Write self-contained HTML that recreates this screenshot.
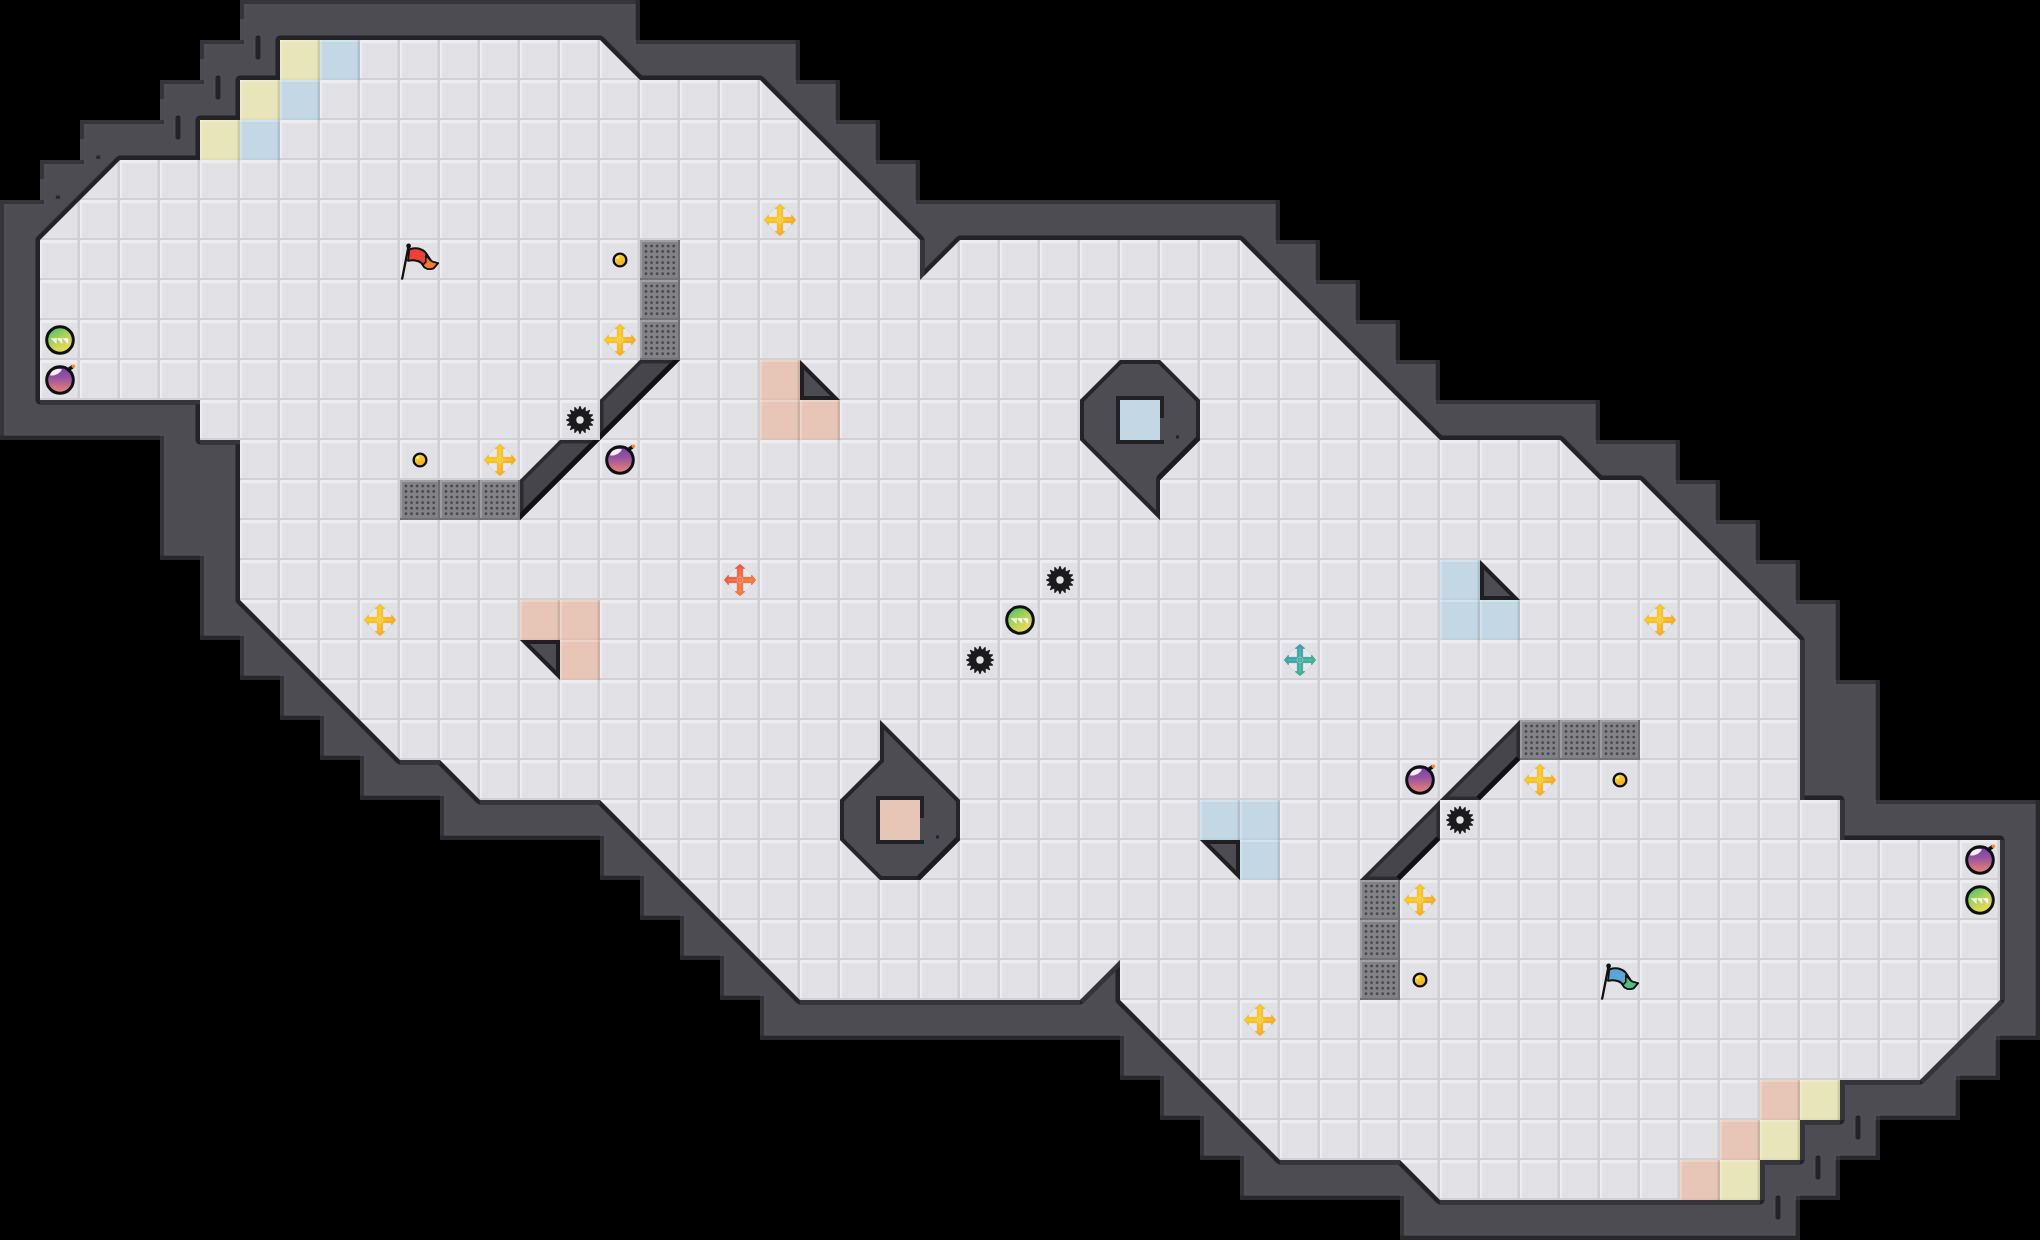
<!DOCTYPE html><html><head><meta charset="utf-8"><style>html,body{margin:0;padding:0;background:#000;overflow:hidden;}svg{display:block;}</style></head><body>
<svg width="2040" height="1240" viewBox="0 0 2040 1240">
<defs>
<pattern id="ft" x="0" y="0" width="40" height="40" patternUnits="userSpaceOnUse"><rect width="40" height="40" fill="#e2e1e6"/><rect x="7" y="7" width="26" height="26" fill="none" stroke="#dedde2" stroke-width="1"/><rect x="0" y="0" width="40" height="3" fill="#edecf1"/><rect x="0" y="0" width="2" height="40" fill="#edecf1"/><rect x="37" y="0" width="3" height="40" fill="#d9d8dd"/><rect x="38" y="0" width="2" height="40" fill="#d0cfd4"/><rect x="0" y="38" width="40" height="2" fill="#d1d0d5"/></pattern>
<clipPath id="wc"><polygon points="240,0 640,0 640,40 800,40 800,80 840,80 840,120 880,120 880,160 920,160 920,200 1280,200 1280,240 1320,240 1320,280 1360,280 1360,320 1400,320 1400,360 1440,360 1440,400 1600,400 1600,440 1680,440 1680,480 1720,480 1720,520 1760,520 1760,560 1800,560 1800,600 1840,600 1840,680 1880,680 1880,800 2040,800 2040,1040 2000,1040 2000,1080 1960,1080 1960,1120 1880,1120 1880,1160 1840,1160 1840,1200 1800,1200 1800,1240 1400,1240 1400,1200 1240,1200 1240,1160 1200,1160 1200,1120 1160,1120 1160,1080 1120,1080 1120,1040 760,1040 760,1000 720,1000 720,960 680,960 680,920 640,920 640,880 600,880 600,840 440,840 440,800 360,800 360,760 320,760 320,720 280,720 280,680 240,680 240,640 200,640 200,560 160,560 160,440 0,440 0,200 40,200 40,160 80,160 80,120 160,120 160,80 200,80 200,40 240,40"/></clipPath>
<linearGradient id="gY" x1="0" y1="0" x2="1" y2="1"><stop offset="0" stop-color="#f7d81a"/><stop offset="0.5" stop-color="#f6c01c"/><stop offset="1" stop-color="#f7941e"/></linearGradient>
<linearGradient id="gO" x1="0" y1="0" x2="1" y2="1"><stop offset="0" stop-color="#f4413a"/><stop offset="0.5" stop-color="#f26a3c"/><stop offset="1" stop-color="#f7921e"/></linearGradient>
<linearGradient id="gT" x1="0" y1="0" x2="1" y2="1"><stop offset="0" stop-color="#3b9fd0"/><stop offset="0.5" stop-color="#3aa79a"/><stop offset="1" stop-color="#3fc088"/></linearGradient>
<linearGradient id="gBomb" x1="0" y1="0" x2="0" y2="1"><stop offset="0" stop-color="#7e3cb4"/><stop offset="0.4" stop-color="#9552a0"/><stop offset="1" stop-color="#ee8670"/></linearGradient>
<linearGradient id="gBall" x1="0" y1="0" x2="0.6" y2="1"><stop offset="0" stop-color="#2fbf72"/><stop offset="0.5" stop-color="#a6cf58"/><stop offset="1" stop-color="#f2dc58"/></linearGradient>
<linearGradient id="gCoin" x1="0" y1="0" x2="0.5" y2="1"><stop offset="0" stop-color="#f4ea1a"/><stop offset="1" stop-color="#f7a626"/></linearGradient>
<g id="gear"><path d="M-1.71,-10.77 L-0.49,-13.89 L0.49,-13.89 L1.71,-10.77 L2.54,-10.60 L4.86,-13.02 L5.77,-12.65 L5.70,-9.29 L6.41,-8.82 L9.48,-10.17 L10.17,-9.48 L8.82,-6.41 L9.29,-5.70 L12.65,-5.77 L13.02,-4.86 L10.60,-2.54 L10.77,-1.71 L13.89,-0.49 L13.89,0.49 L10.77,1.71 L10.60,2.54 L13.02,4.86 L12.65,5.77 L9.29,5.70 L8.82,6.41 L10.17,9.48 L9.48,10.17 L6.41,8.82 L5.70,9.29 L5.77,12.65 L4.86,13.02 L2.54,10.60 L1.71,10.77 L0.49,13.89 L-0.49,13.89 L-1.71,10.77 L-2.54,10.60 L-4.86,13.02 L-5.77,12.65 L-5.70,9.29 L-6.41,8.82 L-9.48,10.17 L-10.17,9.48 L-8.82,6.41 L-9.29,5.70 L-12.65,5.77 L-13.02,4.86 L-10.60,2.54 L-10.77,1.71 L-13.89,0.49 L-13.89,-0.49 L-10.77,-1.71 L-10.60,-2.54 L-13.02,-4.86 L-12.65,-5.77 L-9.29,-5.70 L-8.82,-6.41 L-10.17,-9.48 L-9.48,-10.17 L-6.41,-8.82 L-5.70,-9.29 L-5.77,-12.65 L-4.86,-13.02 L-2.54,-10.60Z M3.7,0 A3.7,3.7 0 1 0 -3.7,0 A3.7,3.7 0 1 0 3.7,0Z" fill="#1b1b1d" fill-rule="evenodd"/></g>
<g id="plus"><circle r="12.3" fill="#e8e7ed" stroke="#d9d7e1" stroke-width="1"/><path d="M0,-15.8 L4.9,-11.6 L2.7,-11.6 L2.7,-2.7 L11.6,-2.7 L11.6,-4.9 L15.8,0 L11.6,4.9 L11.6,2.7 L2.7,2.7 L2.7,11.6 L4.9,11.6 L0,15.8 L-4.9,11.6 L-2.7,11.6 L-2.7,2.7 L-11.6,2.7 L-11.6,4.9 L-15.8,0 L-11.6,-4.9 L-11.6,-2.7 L-2.7,-2.7 L-2.7,-11.6 L-4.9,-11.6 Z" fill="url(#gY)" stroke="#f0a818" stroke-opacity="0.6" stroke-width="0.8" stroke-linejoin="round"/><path d="M0,-12.5V12.5M-12.5,0H12.5" stroke="#fff" stroke-opacity="0.22" stroke-width="1.2"/><circle r="2.9" fill="none" stroke="#ffffff" stroke-opacity="0.3" stroke-width="1"/></g>
<g id="plusO"><circle r="12.3" fill="#e8e7ed" stroke="#d9d7e1" stroke-width="1"/><path d="M0,-15.8 L4.9,-11.6 L2.7,-11.6 L2.7,-2.7 L11.6,-2.7 L11.6,-4.9 L15.8,0 L11.6,4.9 L11.6,2.7 L2.7,2.7 L2.7,11.6 L4.9,11.6 L0,15.8 L-4.9,11.6 L-2.7,11.6 L-2.7,2.7 L-11.6,2.7 L-11.6,4.9 L-15.8,0 L-11.6,-4.9 L-11.6,-2.7 L-2.7,-2.7 L-2.7,-11.6 L-4.9,-11.6 Z" fill="url(#gO)" stroke="#e0502e" stroke-opacity="0.6" stroke-width="0.8" stroke-linejoin="round"/><path d="M0,-12.5V12.5M-12.5,0H12.5" stroke="#fff" stroke-opacity="0.22" stroke-width="1.2"/><circle r="2.9" fill="none" stroke="#ffffff" stroke-opacity="0.3" stroke-width="1"/></g>
<g id="plusT"><circle r="12.3" fill="#e8e7ed" stroke="#d9d7e1" stroke-width="1"/><path d="M0,-15.8 L4.9,-11.6 L2.7,-11.6 L2.7,-2.7 L11.6,-2.7 L11.6,-4.9 L15.8,0 L11.6,4.9 L11.6,2.7 L2.7,2.7 L2.7,11.6 L4.9,11.6 L0,15.8 L-4.9,11.6 L-2.7,11.6 L-2.7,2.7 L-11.6,2.7 L-11.6,4.9 L-15.8,0 L-11.6,-4.9 L-11.6,-2.7 L-2.7,-2.7 L-2.7,-11.6 L-4.9,-11.6 Z" fill="url(#gT)" stroke="#2f9088" stroke-opacity="0.6" stroke-width="0.8" stroke-linejoin="round"/><path d="M0,-12.5V12.5M-12.5,0H12.5" stroke="#fff" stroke-opacity="0.22" stroke-width="1.2"/><circle r="2.9" fill="none" stroke="#ffffff" stroke-opacity="0.3" stroke-width="1"/></g>
<g id="coin"><circle r="6.4" fill="url(#gCoin)" stroke="#0e0e10" stroke-width="2.4"/><circle cx="-2.2" cy="-2.4" r="1.2" fill="#fff" fill-opacity="0.8"/></g>
<g id="bomb"><circle r="13.3" fill="url(#gBomb)" stroke="#111" stroke-width="3"/><path d="M-10,-4.5 C-9,-10 -3,-12 2,-10.5 C0,-6.5 -5,-4 -10,-4.5Z" fill="#fff" fill-opacity="0.92"/><path d="M8.5,-10.5 L12.2,-13" stroke="#111" stroke-width="3.6" stroke-linecap="round" fill="none"/><circle cx="13.4" cy="-13.8" r="1.8" fill="#f7901e"/></g>
<g id="ball"><circle r="13.3" fill="url(#gBall)" stroke="#111" stroke-width="3"/><path d="M-9.5,-1.8 L-3.2,-1.8 L-3.6,4 Z M-3.2,-1.8 L2.4,-1.8 L2.2,4 Z M2.4,-1.8 L8.4,-1.8 L8.2,4 Z" fill="#fff" fill-opacity="0.92"/></g>
<g id="flagR"><path d="M9.2,9.5 C15,7.2 22,8 26,13 C28.5,16.5 30,20.5 32.5,21.8 L38,23.2 L33.5,28.3 C29,30 24.5,28.6 23,25.3 C21.5,21.5 15,19.2 8,20.8 Z" fill="#ea4139" stroke="#111" stroke-width="1.9" stroke-linejoin="round"/><path d="M25.8,15 C28.2,17.8 29.6,20.8 32.5,21.8 L38,23.2 L33.5,28.3 C29,30 24.5,28.6 23,25.3 C24,23.5 25.5,22.5 25.8,22Z" fill="#f07e32" stroke="#111" stroke-width="1.6" stroke-linejoin="round"/><line x1="2.2" y1="38.6" x2="8.5" y2="6.5" stroke="#111" stroke-width="2.3" stroke-linecap="round"/><circle cx="8.6" cy="6" r="2.4" fill="#111"/></g>
<g id="flagB"><path d="M9.2,9.5 C15,7.2 22,8 26,13 C28.5,16.5 30,20.5 32.5,21.8 L38,23.2 L33.5,28.3 C29,30 24.5,28.6 23,25.3 C21.5,21.5 15,19.2 8,20.8 Z" fill="#5aa6d6" stroke="#111" stroke-width="1.9" stroke-linejoin="round"/><path d="M25.8,15 C28.2,17.8 29.6,20.8 32.5,21.8 L38,23.2 L33.5,28.3 C29,30 24.5,28.6 23,25.3 C24,23.5 25.5,22.5 25.8,22Z" fill="#4fc07e" stroke="#111" stroke-width="1.6" stroke-linejoin="round"/><line x1="2.2" y1="38.6" x2="8.5" y2="6.5" stroke="#111" stroke-width="2.3" stroke-linecap="round"/><circle cx="8.6" cy="6" r="2.4" fill="#111"/></g>
</defs>
<rect width="2040" height="1240" fill="#000"/>
<polygon points="240,0 640,0 640,40 800,40 800,80 840,80 840,120 880,120 880,160 920,160 920,200 1280,200 1280,240 1320,240 1320,280 1360,280 1360,320 1400,320 1400,360 1440,360 1440,400 1600,400 1600,440 1680,440 1680,480 1720,480 1720,520 1760,520 1760,560 1800,560 1800,600 1840,600 1840,680 1880,680 1880,800 2040,800 2040,1040 2000,1040 2000,1080 1960,1080 1960,1120 1880,1120 1880,1160 1840,1160 1840,1200 1800,1200 1800,1240 1400,1240 1400,1200 1240,1200 1240,1160 1200,1160 1200,1120 1160,1120 1160,1080 1120,1080 1120,1040 760,1040 760,1000 720,1000 720,960 680,960 680,920 640,920 640,880 600,880 600,840 440,840 440,800 360,800 360,760 320,760 320,720 280,720 280,680 240,680 240,640 200,640 200,560 160,560 160,440 0,440 0,200 40,200 40,160 80,160 80,120 160,120 160,80 200,80 200,40 240,40" fill="#4d4c52" stroke="#545359" stroke-width="11" clip-path="url(#wc)"/>
<polygon points="240,0 640,0 640,40 800,40 800,80 840,80 840,120 880,120 880,160 920,160 920,200 1280,200 1280,240 1320,240 1320,280 1360,280 1360,320 1400,320 1400,360 1440,360 1440,400 1600,400 1600,440 1680,440 1680,480 1720,480 1720,520 1760,520 1760,560 1800,560 1800,600 1840,600 1840,680 1880,680 1880,800 2040,800 2040,1040 2000,1040 2000,1080 1960,1080 1960,1120 1880,1120 1880,1160 1840,1160 1840,1200 1800,1200 1800,1240 1400,1240 1400,1200 1240,1200 1240,1160 1200,1160 1200,1120 1160,1120 1160,1080 1120,1080 1120,1040 760,1040 760,1000 720,1000 720,960 680,960 680,920 640,920 640,880 600,880 600,840 440,840 440,800 360,800 360,760 320,760 320,720 280,720 280,680 240,680 240,640 200,640 200,560 160,560 160,440 0,440 0,200 40,200 40,160 80,160 80,120 160,120 160,80 200,80 200,40 240,40" fill="none" stroke="#36353a" stroke-width="8.5" clip-path="url(#wc)"/>
<path d="M635.75,0h4.25v40h-4.25zM795.75,40h4.25v40h-4.25zM835.75,80h4.25v40h-4.25zM875.75,120h4.25v40h-4.25zM915.75,160h4.25v40h-4.25zM1275.75,200h4.25v40h-4.25zM1315.75,240h4.25v40h-4.25zM1355.75,280h4.25v40h-4.25zM1395.75,320h4.25v40h-4.25zM1435.75,360h4.25v40h-4.25zM1595.75,400h4.25v40h-4.25zM1675.75,440h4.25v40h-4.25zM1715.75,480h4.25v40h-4.25zM1755.75,520h4.25v40h-4.25zM1795.75,560h4.25v40h-4.25zM1835.75,600h4.25v80h-4.25zM1875.75,680h4.25v120h-4.25zM2035.75,800h4.25v240h-4.25zM2000,1035.75h40v4.25h-40zM1995.75,1040h4.25v40h-4.25zM1960,1075.75h40v4.25h-40zM1955.75,1080h4.25v40h-4.25zM1880,1115.75h80v4.25h-80zM1875.75,1120h4.25v40h-4.25zM1840,1155.75h40v4.25h-40zM1835.75,1160h4.25v40h-4.25zM1800,1195.75h40v4.25h-40zM1795.75,1200h4.25v40h-4.25zM1400,1235.75h400v4.25h-400zM1240,1195.75h160v4.25h-160zM1200,1155.75h40v4.25h-40zM1160,1115.75h40v4.25h-40zM1120,1075.75h40v4.25h-40zM760,1035.75h360v4.25h-360zM720,995.75h40v4.25h-40zM680,955.75h40v4.25h-40zM640,915.75h40v4.25h-40zM600,875.75h40v4.25h-40zM440,835.75h160v4.25h-160zM360,795.75h80v4.25h-80zM320,755.75h40v4.25h-40zM280,715.75h40v4.25h-40zM240,675.75h40v4.25h-40zM200,635.75h40v4.25h-40zM160,555.75h40v4.25h-40zM0,435.75h160v4.25h-160z" fill="#29282d" clip-path="url(#wc)"/>
<rect x="40" y="179" width="5" height="21" fill="#4d4c52"/>
<rect x="80" y="139" width="5" height="21" fill="#4d4c52"/>
<rect x="160" y="99" width="5" height="21" fill="#4d4c52"/>
<rect x="200" y="59" width="5" height="21" fill="#4d4c52"/>
<rect x="240" y="19" width="5" height="21" fill="#4d4c52"/>
<path d="M96.5,155.5h3.4l0.6,3.2h-4.6z M56.2,195.5h3.4l0.6,3.2h-4.6z" fill="#29282d"/>
<rect x="255.6" y="35.5" width="4.8" height="24" rx="2" fill="#232227"/>
<rect x="215.6" y="75.5" width="4.8" height="24" rx="2" fill="#232227"/>
<rect x="175.6" y="115.5" width="4.8" height="24" rx="2" fill="#232227"/>
<rect x="1855.6" y="1115.5" width="4.8" height="24" rx="2" fill="#232227"/>
<rect x="1815.6" y="1155.5" width="4.8" height="24" rx="2" fill="#232227"/>
<rect x="1775.6" y="1195.5" width="4.8" height="24" rx="2" fill="#232227"/>
<polygon points="280,40 600,40 640,80 760,80 920,240 920,280 960,240 1240,240 1440,440 1560,440 1600,480 1640,480 1800,640 1800,800 1840,800 1840,840 2000,840 2000,1000 1920,1080 1840,1080 1840,1120 1800,1120 1800,1160 1760,1160 1760,1200 1440,1200 1400,1160 1280,1160 1120,1000 1120,960 1080,1000 800,1000 600,800 480,800 440,760 400,760 240,600 240,440 200,440 200,400 40,400 40,240 120,160 200,160 200,120 240,120 240,80 280,80" fill="#232227" stroke="#232227" stroke-width="9" stroke-linejoin="round"/>
<path d="M920,240h4.5v40h-4.5zM1800,640h4.5v160h-4.5zM1840,800h4.5v40h-4.5zM2000,840h4.5v160h-4.5zM2000,1000L1920,1080L1923.18,1083.18L2003.18,1003.18zM1840,1080h80v4.5h-80zM1840,1080h4.5v40h-4.5zM1800,1120h40v4.5h-40zM1800,1120h4.5v40h-4.5zM1760,1160h40v4.5h-40zM1760,1160h4.5v40h-4.5zM1440,1200h320v4.5h-320zM1280,1160h120v4.5h-120zM1120,960L1080,1000L1083.18,1003.18L1123.18,963.18zM800,1000h280v4.5h-280zM480,800h120v4.5h-120zM400,760h40v4.5h-40zM200,440h40v4.5h-40zM40,400h160v4.5h-160z" fill="#35343a"/>
<polygon points="280,40 600,40 640,80 760,80 920,240 920,280 960,240 1240,240 1440,440 1560,440 1600,480 1640,480 1800,640 1800,800 1840,800 1840,840 2000,840 2000,1000 1920,1080 1840,1080 1840,1120 1800,1120 1800,1160 1760,1160 1760,1200 1440,1200 1400,1160 1280,1160 1120,1000 1120,960 1080,1000 800,1000 600,800 480,800 440,760 400,760 240,600 240,440 200,440 200,400 40,400 40,240 120,160 200,160 200,120 240,120 240,80 280,80" fill="url(#ft)"/>
<rect x="280" y="40" width="40" height="40" fill="#e7e5b9"/><rect x="280" y="40" width="40" height="2" fill="#fff" fill-opacity="0.25"/><rect x="280" y="40" width="2" height="40" fill="#fff" fill-opacity="0.25"/><rect x="317" y="40" width="3" height="40" fill="#000" fill-opacity="0.05"/><rect x="318" y="40" width="2" height="40" fill="#000" fill-opacity="0.06"/><rect x="280" y="78" width="40" height="2" fill="#000" fill-opacity="0.03"/>
<rect x="1720" y="1160" width="40" height="40" fill="#e7e5b9"/><rect x="1720" y="1160" width="40" height="2" fill="#fff" fill-opacity="0.25"/><rect x="1720" y="1160" width="2" height="40" fill="#fff" fill-opacity="0.25"/><rect x="1757" y="1160" width="3" height="40" fill="#000" fill-opacity="0.05"/><rect x="1758" y="1160" width="2" height="40" fill="#000" fill-opacity="0.06"/><rect x="1720" y="1198" width="40" height="2" fill="#000" fill-opacity="0.03"/>
<rect x="240" y="80" width="40" height="40" fill="#e7e5b9"/><rect x="240" y="80" width="40" height="2" fill="#fff" fill-opacity="0.25"/><rect x="240" y="80" width="2" height="40" fill="#fff" fill-opacity="0.25"/><rect x="277" y="80" width="3" height="40" fill="#000" fill-opacity="0.05"/><rect x="278" y="80" width="2" height="40" fill="#000" fill-opacity="0.06"/><rect x="240" y="118" width="40" height="2" fill="#000" fill-opacity="0.03"/>
<rect x="1760" y="1120" width="40" height="40" fill="#e7e5b9"/><rect x="1760" y="1120" width="40" height="2" fill="#fff" fill-opacity="0.25"/><rect x="1760" y="1120" width="2" height="40" fill="#fff" fill-opacity="0.25"/><rect x="1797" y="1120" width="3" height="40" fill="#000" fill-opacity="0.05"/><rect x="1798" y="1120" width="2" height="40" fill="#000" fill-opacity="0.06"/><rect x="1760" y="1158" width="40" height="2" fill="#000" fill-opacity="0.03"/>
<rect x="200" y="120" width="40" height="40" fill="#e7e5b9"/><rect x="200" y="120" width="40" height="2" fill="#fff" fill-opacity="0.25"/><rect x="200" y="120" width="2" height="40" fill="#fff" fill-opacity="0.25"/><rect x="237" y="120" width="3" height="40" fill="#000" fill-opacity="0.05"/><rect x="238" y="120" width="2" height="40" fill="#000" fill-opacity="0.06"/><rect x="200" y="158" width="40" height="2" fill="#000" fill-opacity="0.03"/>
<rect x="1800" y="1080" width="40" height="40" fill="#e7e5b9"/><rect x="1800" y="1080" width="40" height="2" fill="#fff" fill-opacity="0.25"/><rect x="1800" y="1080" width="2" height="40" fill="#fff" fill-opacity="0.25"/><rect x="1837" y="1080" width="3" height="40" fill="#000" fill-opacity="0.05"/><rect x="1838" y="1080" width="2" height="40" fill="#000" fill-opacity="0.06"/><rect x="1800" y="1118" width="40" height="2" fill="#000" fill-opacity="0.03"/>
<rect x="320" y="40" width="40" height="40" fill="#c4d7e5"/><rect x="320" y="40" width="40" height="2" fill="#fff" fill-opacity="0.25"/><rect x="320" y="40" width="2" height="40" fill="#fff" fill-opacity="0.25"/><rect x="357" y="40" width="3" height="40" fill="#000" fill-opacity="0.05"/><rect x="358" y="40" width="2" height="40" fill="#000" fill-opacity="0.06"/><rect x="320" y="78" width="40" height="2" fill="#000" fill-opacity="0.03"/>
<rect x="1680" y="1160" width="40" height="40" fill="#e7c6b7"/><rect x="1680" y="1160" width="40" height="2" fill="#fff" fill-opacity="0.25"/><rect x="1680" y="1160" width="2" height="40" fill="#fff" fill-opacity="0.25"/><rect x="1717" y="1160" width="3" height="40" fill="#000" fill-opacity="0.05"/><rect x="1718" y="1160" width="2" height="40" fill="#000" fill-opacity="0.06"/><rect x="1680" y="1198" width="40" height="2" fill="#000" fill-opacity="0.03"/>
<rect x="280" y="80" width="40" height="40" fill="#c4d7e5"/><rect x="280" y="80" width="40" height="2" fill="#fff" fill-opacity="0.25"/><rect x="280" y="80" width="2" height="40" fill="#fff" fill-opacity="0.25"/><rect x="317" y="80" width="3" height="40" fill="#000" fill-opacity="0.05"/><rect x="318" y="80" width="2" height="40" fill="#000" fill-opacity="0.06"/><rect x="280" y="118" width="40" height="2" fill="#000" fill-opacity="0.03"/>
<rect x="1720" y="1120" width="40" height="40" fill="#e7c6b7"/><rect x="1720" y="1120" width="40" height="2" fill="#fff" fill-opacity="0.25"/><rect x="1720" y="1120" width="2" height="40" fill="#fff" fill-opacity="0.25"/><rect x="1757" y="1120" width="3" height="40" fill="#000" fill-opacity="0.05"/><rect x="1758" y="1120" width="2" height="40" fill="#000" fill-opacity="0.06"/><rect x="1720" y="1158" width="40" height="2" fill="#000" fill-opacity="0.03"/>
<rect x="240" y="120" width="40" height="40" fill="#c4d7e5"/><rect x="240" y="120" width="40" height="2" fill="#fff" fill-opacity="0.25"/><rect x="240" y="120" width="2" height="40" fill="#fff" fill-opacity="0.25"/><rect x="277" y="120" width="3" height="40" fill="#000" fill-opacity="0.05"/><rect x="278" y="120" width="2" height="40" fill="#000" fill-opacity="0.06"/><rect x="240" y="158" width="40" height="2" fill="#000" fill-opacity="0.03"/>
<rect x="1760" y="1080" width="40" height="40" fill="#e7c6b7"/><rect x="1760" y="1080" width="40" height="2" fill="#fff" fill-opacity="0.25"/><rect x="1760" y="1080" width="2" height="40" fill="#fff" fill-opacity="0.25"/><rect x="1797" y="1080" width="3" height="40" fill="#000" fill-opacity="0.05"/><rect x="1798" y="1080" width="2" height="40" fill="#000" fill-opacity="0.06"/><rect x="1760" y="1118" width="40" height="2" fill="#000" fill-opacity="0.03"/>
<rect x="760" y="360" width="40" height="40" fill="#e7c6b7"/><rect x="760" y="360" width="40" height="2" fill="#fff" fill-opacity="0.25"/><rect x="760" y="360" width="2" height="40" fill="#fff" fill-opacity="0.25"/><rect x="797" y="360" width="3" height="40" fill="#000" fill-opacity="0.05"/><rect x="798" y="360" width="2" height="40" fill="#000" fill-opacity="0.06"/><rect x="760" y="398" width="40" height="2" fill="#000" fill-opacity="0.03"/>
<rect x="1240" y="840" width="40" height="40" fill="#c4d7e5"/><rect x="1240" y="840" width="40" height="2" fill="#fff" fill-opacity="0.25"/><rect x="1240" y="840" width="2" height="40" fill="#fff" fill-opacity="0.25"/><rect x="1277" y="840" width="3" height="40" fill="#000" fill-opacity="0.05"/><rect x="1278" y="840" width="2" height="40" fill="#000" fill-opacity="0.06"/><rect x="1240" y="878" width="40" height="2" fill="#000" fill-opacity="0.03"/>
<rect x="760" y="400" width="40" height="40" fill="#e7c6b7"/><rect x="760" y="400" width="40" height="2" fill="#fff" fill-opacity="0.25"/><rect x="760" y="400" width="2" height="40" fill="#fff" fill-opacity="0.25"/><rect x="797" y="400" width="3" height="40" fill="#000" fill-opacity="0.05"/><rect x="798" y="400" width="2" height="40" fill="#000" fill-opacity="0.06"/><rect x="760" y="438" width="40" height="2" fill="#000" fill-opacity="0.03"/>
<rect x="1240" y="800" width="40" height="40" fill="#c4d7e5"/><rect x="1240" y="800" width="40" height="2" fill="#fff" fill-opacity="0.25"/><rect x="1240" y="800" width="2" height="40" fill="#fff" fill-opacity="0.25"/><rect x="1277" y="800" width="3" height="40" fill="#000" fill-opacity="0.05"/><rect x="1278" y="800" width="2" height="40" fill="#000" fill-opacity="0.06"/><rect x="1240" y="838" width="40" height="2" fill="#000" fill-opacity="0.03"/>
<rect x="800" y="400" width="40" height="40" fill="#e7c6b7"/><rect x="800" y="400" width="40" height="2" fill="#fff" fill-opacity="0.25"/><rect x="800" y="400" width="2" height="40" fill="#fff" fill-opacity="0.25"/><rect x="837" y="400" width="3" height="40" fill="#000" fill-opacity="0.05"/><rect x="838" y="400" width="2" height="40" fill="#000" fill-opacity="0.06"/><rect x="800" y="438" width="40" height="2" fill="#000" fill-opacity="0.03"/>
<rect x="1200" y="800" width="40" height="40" fill="#c4d7e5"/><rect x="1200" y="800" width="40" height="2" fill="#fff" fill-opacity="0.25"/><rect x="1200" y="800" width="2" height="40" fill="#fff" fill-opacity="0.25"/><rect x="1237" y="800" width="3" height="40" fill="#000" fill-opacity="0.05"/><rect x="1238" y="800" width="2" height="40" fill="#000" fill-opacity="0.06"/><rect x="1200" y="838" width="40" height="2" fill="#000" fill-opacity="0.03"/>
<rect x="520" y="600" width="40" height="40" fill="#e7c6b7"/><rect x="520" y="600" width="40" height="2" fill="#fff" fill-opacity="0.25"/><rect x="520" y="600" width="2" height="40" fill="#fff" fill-opacity="0.25"/><rect x="557" y="600" width="3" height="40" fill="#000" fill-opacity="0.05"/><rect x="558" y="600" width="2" height="40" fill="#000" fill-opacity="0.06"/><rect x="520" y="638" width="40" height="2" fill="#000" fill-opacity="0.03"/>
<rect x="1480" y="600" width="40" height="40" fill="#c4d7e5"/><rect x="1480" y="600" width="40" height="2" fill="#fff" fill-opacity="0.25"/><rect x="1480" y="600" width="2" height="40" fill="#fff" fill-opacity="0.25"/><rect x="1517" y="600" width="3" height="40" fill="#000" fill-opacity="0.05"/><rect x="1518" y="600" width="2" height="40" fill="#000" fill-opacity="0.06"/><rect x="1480" y="638" width="40" height="2" fill="#000" fill-opacity="0.03"/>
<rect x="560" y="600" width="40" height="40" fill="#e7c6b7"/><rect x="560" y="600" width="40" height="2" fill="#fff" fill-opacity="0.25"/><rect x="560" y="600" width="2" height="40" fill="#fff" fill-opacity="0.25"/><rect x="597" y="600" width="3" height="40" fill="#000" fill-opacity="0.05"/><rect x="598" y="600" width="2" height="40" fill="#000" fill-opacity="0.06"/><rect x="560" y="638" width="40" height="2" fill="#000" fill-opacity="0.03"/>
<rect x="1440" y="600" width="40" height="40" fill="#c4d7e5"/><rect x="1440" y="600" width="40" height="2" fill="#fff" fill-opacity="0.25"/><rect x="1440" y="600" width="2" height="40" fill="#fff" fill-opacity="0.25"/><rect x="1477" y="600" width="3" height="40" fill="#000" fill-opacity="0.05"/><rect x="1478" y="600" width="2" height="40" fill="#000" fill-opacity="0.06"/><rect x="1440" y="638" width="40" height="2" fill="#000" fill-opacity="0.03"/>
<rect x="560" y="640" width="40" height="40" fill="#e7c6b7"/><rect x="560" y="640" width="40" height="2" fill="#fff" fill-opacity="0.25"/><rect x="560" y="640" width="2" height="40" fill="#fff" fill-opacity="0.25"/><rect x="597" y="640" width="3" height="40" fill="#000" fill-opacity="0.05"/><rect x="598" y="640" width="2" height="40" fill="#000" fill-opacity="0.06"/><rect x="560" y="678" width="40" height="2" fill="#000" fill-opacity="0.03"/>
<rect x="1440" y="560" width="40" height="40" fill="#c4d7e5"/><rect x="1440" y="560" width="40" height="2" fill="#fff" fill-opacity="0.25"/><rect x="1440" y="560" width="2" height="40" fill="#fff" fill-opacity="0.25"/><rect x="1477" y="560" width="3" height="40" fill="#000" fill-opacity="0.05"/><rect x="1478" y="560" width="2" height="40" fill="#000" fill-opacity="0.06"/><rect x="1440" y="598" width="40" height="2" fill="#000" fill-opacity="0.03"/>
<clipPath id="pc1"><polygon points="800,360 840,400 800,400"/></clipPath><g clip-path="url(#pc1)"><polygon points="800,360 840,400 800,400" fill="#4d4c52" stroke="#1f1e23" stroke-width="8" stroke-linejoin="miter"/></g>
<clipPath id="pc2"><polygon points="520,640 560,640 560,680"/></clipPath><g clip-path="url(#pc2)"><polygon points="520,640 560,640 560,680" fill="#4d4c52" stroke="#1f1e23" stroke-width="8" stroke-linejoin="miter"/></g>
<clipPath id="pc3"><polygon points="1240,880 1200,840 1240,840"/></clipPath><g clip-path="url(#pc3)"><polygon points="1240,880 1200,840 1240,840" fill="#4d4c52" stroke="#1f1e23" stroke-width="8" stroke-linejoin="miter"/></g>
<clipPath id="pc4"><polygon points="1520,600 1480,600 1480,560"/></clipPath><g clip-path="url(#pc4)"><polygon points="1520,600 1480,600 1480,560" fill="#4d4c52" stroke="#1f1e23" stroke-width="8" stroke-linejoin="miter"/></g>
<clipPath id="pc5"><polygon points="1120,360 1160,360 1200,400 1200,440 1160,480 1160,520 1080,440 1080,400"/></clipPath><g clip-path="url(#pc5)"><polygon points="1120,360 1160,360 1200,400 1200,440 1160,480 1160,520 1080,440 1080,400" fill="#4d4c52" stroke="#252429" stroke-width="8" stroke-linejoin="miter"/><line x1="1200" y1="440" x2="1160" y2="480" stroke="#1c1b20" stroke-width="10"/></g>
<rect x="1120" y="400" width="40" height="40" fill="#c4d7e5"/>
<rect x="1116" y="396" width="48" height="4" fill="#222126"/>
<rect x="1116" y="396" width="4" height="48" fill="#222126"/>
<rect x="1116" y="440" width="48" height="4" fill="#222126"/>
<rect x="1160" y="396" width="4" height="22" fill="#222126"/>
<rect x="1176" y="435.5" width="3" height="3" fill="#222126"/>
<clipPath id="pc6"><polygon points="920,880 880,880 840,840 840,800 880,760 880,720 960,800 960,840"/></clipPath><g clip-path="url(#pc6)"><polygon points="920,880 880,880 840,840 840,800 880,760 880,720 960,800 960,840" fill="#4d4c52" stroke="#252429" stroke-width="8" stroke-linejoin="miter"/><line x1="960" y1="840" x2="920" y2="880" stroke="#1c1b20" stroke-width="10"/></g>
<rect x="880" y="800" width="40" height="40" fill="#e7c6b7"/>
<rect x="876" y="796" width="48" height="4" fill="#222126"/>
<rect x="876" y="796" width="4" height="48" fill="#222126"/>
<rect x="876" y="840" width="48" height="4" fill="#222126"/>
<rect x="920" y="796" width="4" height="22" fill="#222126"/>
<rect x="936" y="835.5" width="3" height="3" fill="#222126"/>
<clipPath id="pc7"><polygon points="640,360 680,360 600,440 600,400"/></clipPath><g clip-path="url(#pc7)"><polygon points="640,360 680,360 600,440 600,400" fill="#46454b" stroke="#2b2a2f" stroke-width="7" stroke-linejoin="miter"/><line x1="680" y1="360" x2="600" y2="440" stroke="#111114" stroke-width="10"/></g>
<clipPath id="pc8"><polygon points="560,440 600,440 520,520 520,480"/></clipPath><g clip-path="url(#pc8)"><polygon points="560,440 600,440 520,520 520,480" fill="#46454b" stroke="#2b2a2f" stroke-width="7" stroke-linejoin="miter"/><line x1="600" y1="440" x2="520" y2="520" stroke="#111114" stroke-width="10"/></g>
<clipPath id="pc9"><polygon points="1400,880 1360,880 1440,800 1440,840"/></clipPath><g clip-path="url(#pc9)"><polygon points="1400,880 1360,880 1440,800 1440,840" fill="#46454b" stroke="#2b2a2f" stroke-width="7" stroke-linejoin="miter"/><line x1="1400" y1="880" x2="1440" y2="840" stroke="#111114" stroke-width="10"/></g>
<clipPath id="pc10"><polygon points="1480,800 1440,800 1520,720 1520,760"/></clipPath><g clip-path="url(#pc10)"><polygon points="1480,800 1440,800 1520,720 1520,760" fill="#46454b" stroke="#2b2a2f" stroke-width="7" stroke-linejoin="miter"/><line x1="1480" y1="800" x2="1520" y2="760" stroke="#111114" stroke-width="10"/></g>
<rect x="640" y="240" width="40" height="40" fill="#838287"/><rect x="640" y="240" width="2" height="40" fill="#9d9ca1"/><rect x="640" y="240" width="40" height="2" fill="#a09fa4"/><rect x="678" y="240" width="2" height="40" fill="#6f6e73"/><rect x="640" y="278" width="40" height="2" fill="#737277"/>
<path d="M644.55,246.00a1.45,1.45 0 1 0 2.9,0a1.45,1.45 0 1 0 -2.9,0zM644.55,251.55a1.45,1.45 0 1 0 2.9,0a1.45,1.45 0 1 0 -2.9,0zM644.55,257.10a1.45,1.45 0 1 0 2.9,0a1.45,1.45 0 1 0 -2.9,0zM644.55,262.65a1.45,1.45 0 1 0 2.9,0a1.45,1.45 0 1 0 -2.9,0zM644.55,268.20a1.45,1.45 0 1 0 2.9,0a1.45,1.45 0 1 0 -2.9,0zM644.55,273.75a1.45,1.45 0 1 0 2.9,0a1.45,1.45 0 1 0 -2.9,0zM650.10,246.00a1.45,1.45 0 1 0 2.9,0a1.45,1.45 0 1 0 -2.9,0zM650.10,251.55a1.45,1.45 0 1 0 2.9,0a1.45,1.45 0 1 0 -2.9,0zM650.10,257.10a1.45,1.45 0 1 0 2.9,0a1.45,1.45 0 1 0 -2.9,0zM650.10,262.65a1.45,1.45 0 1 0 2.9,0a1.45,1.45 0 1 0 -2.9,0zM650.10,268.20a1.45,1.45 0 1 0 2.9,0a1.45,1.45 0 1 0 -2.9,0zM650.10,273.75a1.45,1.45 0 1 0 2.9,0a1.45,1.45 0 1 0 -2.9,0zM655.65,246.00a1.45,1.45 0 1 0 2.9,0a1.45,1.45 0 1 0 -2.9,0zM655.65,251.55a1.45,1.45 0 1 0 2.9,0a1.45,1.45 0 1 0 -2.9,0zM655.65,257.10a1.45,1.45 0 1 0 2.9,0a1.45,1.45 0 1 0 -2.9,0zM655.65,262.65a1.45,1.45 0 1 0 2.9,0a1.45,1.45 0 1 0 -2.9,0zM655.65,268.20a1.45,1.45 0 1 0 2.9,0a1.45,1.45 0 1 0 -2.9,0zM655.65,273.75a1.45,1.45 0 1 0 2.9,0a1.45,1.45 0 1 0 -2.9,0zM661.20,246.00a1.45,1.45 0 1 0 2.9,0a1.45,1.45 0 1 0 -2.9,0zM661.20,251.55a1.45,1.45 0 1 0 2.9,0a1.45,1.45 0 1 0 -2.9,0zM661.20,257.10a1.45,1.45 0 1 0 2.9,0a1.45,1.45 0 1 0 -2.9,0zM661.20,262.65a1.45,1.45 0 1 0 2.9,0a1.45,1.45 0 1 0 -2.9,0zM661.20,268.20a1.45,1.45 0 1 0 2.9,0a1.45,1.45 0 1 0 -2.9,0zM661.20,273.75a1.45,1.45 0 1 0 2.9,0a1.45,1.45 0 1 0 -2.9,0zM666.75,246.00a1.45,1.45 0 1 0 2.9,0a1.45,1.45 0 1 0 -2.9,0zM666.75,251.55a1.45,1.45 0 1 0 2.9,0a1.45,1.45 0 1 0 -2.9,0zM666.75,257.10a1.45,1.45 0 1 0 2.9,0a1.45,1.45 0 1 0 -2.9,0zM666.75,262.65a1.45,1.45 0 1 0 2.9,0a1.45,1.45 0 1 0 -2.9,0zM666.75,268.20a1.45,1.45 0 1 0 2.9,0a1.45,1.45 0 1 0 -2.9,0zM666.75,273.75a1.45,1.45 0 1 0 2.9,0a1.45,1.45 0 1 0 -2.9,0zM672.30,246.00a1.45,1.45 0 1 0 2.9,0a1.45,1.45 0 1 0 -2.9,0zM672.30,251.55a1.45,1.45 0 1 0 2.9,0a1.45,1.45 0 1 0 -2.9,0zM672.30,257.10a1.45,1.45 0 1 0 2.9,0a1.45,1.45 0 1 0 -2.9,0zM672.30,262.65a1.45,1.45 0 1 0 2.9,0a1.45,1.45 0 1 0 -2.9,0zM672.30,268.20a1.45,1.45 0 1 0 2.9,0a1.45,1.45 0 1 0 -2.9,0zM672.30,273.75a1.45,1.45 0 1 0 2.9,0a1.45,1.45 0 1 0 -2.9,0z" fill="#4b4a4f"/>
<rect x="640" y="280" width="40" height="40" fill="#838287"/><rect x="640" y="280" width="2" height="40" fill="#9d9ca1"/><rect x="640" y="280" width="40" height="2" fill="#a09fa4"/><rect x="678" y="280" width="2" height="40" fill="#6f6e73"/><rect x="640" y="318" width="40" height="2" fill="#737277"/>
<path d="M644.55,286.00a1.45,1.45 0 1 0 2.9,0a1.45,1.45 0 1 0 -2.9,0zM644.55,291.55a1.45,1.45 0 1 0 2.9,0a1.45,1.45 0 1 0 -2.9,0zM644.55,297.10a1.45,1.45 0 1 0 2.9,0a1.45,1.45 0 1 0 -2.9,0zM644.55,302.65a1.45,1.45 0 1 0 2.9,0a1.45,1.45 0 1 0 -2.9,0zM644.55,308.20a1.45,1.45 0 1 0 2.9,0a1.45,1.45 0 1 0 -2.9,0zM644.55,313.75a1.45,1.45 0 1 0 2.9,0a1.45,1.45 0 1 0 -2.9,0zM650.10,286.00a1.45,1.45 0 1 0 2.9,0a1.45,1.45 0 1 0 -2.9,0zM650.10,291.55a1.45,1.45 0 1 0 2.9,0a1.45,1.45 0 1 0 -2.9,0zM650.10,297.10a1.45,1.45 0 1 0 2.9,0a1.45,1.45 0 1 0 -2.9,0zM650.10,302.65a1.45,1.45 0 1 0 2.9,0a1.45,1.45 0 1 0 -2.9,0zM650.10,308.20a1.45,1.45 0 1 0 2.9,0a1.45,1.45 0 1 0 -2.9,0zM650.10,313.75a1.45,1.45 0 1 0 2.9,0a1.45,1.45 0 1 0 -2.9,0zM655.65,286.00a1.45,1.45 0 1 0 2.9,0a1.45,1.45 0 1 0 -2.9,0zM655.65,291.55a1.45,1.45 0 1 0 2.9,0a1.45,1.45 0 1 0 -2.9,0zM655.65,297.10a1.45,1.45 0 1 0 2.9,0a1.45,1.45 0 1 0 -2.9,0zM655.65,302.65a1.45,1.45 0 1 0 2.9,0a1.45,1.45 0 1 0 -2.9,0zM655.65,308.20a1.45,1.45 0 1 0 2.9,0a1.45,1.45 0 1 0 -2.9,0zM655.65,313.75a1.45,1.45 0 1 0 2.9,0a1.45,1.45 0 1 0 -2.9,0zM661.20,286.00a1.45,1.45 0 1 0 2.9,0a1.45,1.45 0 1 0 -2.9,0zM661.20,291.55a1.45,1.45 0 1 0 2.9,0a1.45,1.45 0 1 0 -2.9,0zM661.20,297.10a1.45,1.45 0 1 0 2.9,0a1.45,1.45 0 1 0 -2.9,0zM661.20,302.65a1.45,1.45 0 1 0 2.9,0a1.45,1.45 0 1 0 -2.9,0zM661.20,308.20a1.45,1.45 0 1 0 2.9,0a1.45,1.45 0 1 0 -2.9,0zM661.20,313.75a1.45,1.45 0 1 0 2.9,0a1.45,1.45 0 1 0 -2.9,0zM666.75,286.00a1.45,1.45 0 1 0 2.9,0a1.45,1.45 0 1 0 -2.9,0zM666.75,291.55a1.45,1.45 0 1 0 2.9,0a1.45,1.45 0 1 0 -2.9,0zM666.75,297.10a1.45,1.45 0 1 0 2.9,0a1.45,1.45 0 1 0 -2.9,0zM666.75,302.65a1.45,1.45 0 1 0 2.9,0a1.45,1.45 0 1 0 -2.9,0zM666.75,308.20a1.45,1.45 0 1 0 2.9,0a1.45,1.45 0 1 0 -2.9,0zM666.75,313.75a1.45,1.45 0 1 0 2.9,0a1.45,1.45 0 1 0 -2.9,0zM672.30,286.00a1.45,1.45 0 1 0 2.9,0a1.45,1.45 0 1 0 -2.9,0zM672.30,291.55a1.45,1.45 0 1 0 2.9,0a1.45,1.45 0 1 0 -2.9,0zM672.30,297.10a1.45,1.45 0 1 0 2.9,0a1.45,1.45 0 1 0 -2.9,0zM672.30,302.65a1.45,1.45 0 1 0 2.9,0a1.45,1.45 0 1 0 -2.9,0zM672.30,308.20a1.45,1.45 0 1 0 2.9,0a1.45,1.45 0 1 0 -2.9,0zM672.30,313.75a1.45,1.45 0 1 0 2.9,0a1.45,1.45 0 1 0 -2.9,0z" fill="#4b4a4f"/>
<rect x="640" y="320" width="40" height="40" fill="#838287"/><rect x="640" y="320" width="2" height="40" fill="#9d9ca1"/><rect x="640" y="320" width="40" height="2" fill="#a09fa4"/><rect x="678" y="320" width="2" height="40" fill="#6f6e73"/><rect x="640" y="358" width="40" height="2" fill="#737277"/>
<path d="M644.55,326.00a1.45,1.45 0 1 0 2.9,0a1.45,1.45 0 1 0 -2.9,0zM644.55,331.55a1.45,1.45 0 1 0 2.9,0a1.45,1.45 0 1 0 -2.9,0zM644.55,337.10a1.45,1.45 0 1 0 2.9,0a1.45,1.45 0 1 0 -2.9,0zM644.55,342.65a1.45,1.45 0 1 0 2.9,0a1.45,1.45 0 1 0 -2.9,0zM644.55,348.20a1.45,1.45 0 1 0 2.9,0a1.45,1.45 0 1 0 -2.9,0zM644.55,353.75a1.45,1.45 0 1 0 2.9,0a1.45,1.45 0 1 0 -2.9,0zM650.10,326.00a1.45,1.45 0 1 0 2.9,0a1.45,1.45 0 1 0 -2.9,0zM650.10,331.55a1.45,1.45 0 1 0 2.9,0a1.45,1.45 0 1 0 -2.9,0zM650.10,337.10a1.45,1.45 0 1 0 2.9,0a1.45,1.45 0 1 0 -2.9,0zM650.10,342.65a1.45,1.45 0 1 0 2.9,0a1.45,1.45 0 1 0 -2.9,0zM650.10,348.20a1.45,1.45 0 1 0 2.9,0a1.45,1.45 0 1 0 -2.9,0zM650.10,353.75a1.45,1.45 0 1 0 2.9,0a1.45,1.45 0 1 0 -2.9,0zM655.65,326.00a1.45,1.45 0 1 0 2.9,0a1.45,1.45 0 1 0 -2.9,0zM655.65,331.55a1.45,1.45 0 1 0 2.9,0a1.45,1.45 0 1 0 -2.9,0zM655.65,337.10a1.45,1.45 0 1 0 2.9,0a1.45,1.45 0 1 0 -2.9,0zM655.65,342.65a1.45,1.45 0 1 0 2.9,0a1.45,1.45 0 1 0 -2.9,0zM655.65,348.20a1.45,1.45 0 1 0 2.9,0a1.45,1.45 0 1 0 -2.9,0zM655.65,353.75a1.45,1.45 0 1 0 2.9,0a1.45,1.45 0 1 0 -2.9,0zM661.20,326.00a1.45,1.45 0 1 0 2.9,0a1.45,1.45 0 1 0 -2.9,0zM661.20,331.55a1.45,1.45 0 1 0 2.9,0a1.45,1.45 0 1 0 -2.9,0zM661.20,337.10a1.45,1.45 0 1 0 2.9,0a1.45,1.45 0 1 0 -2.9,0zM661.20,342.65a1.45,1.45 0 1 0 2.9,0a1.45,1.45 0 1 0 -2.9,0zM661.20,348.20a1.45,1.45 0 1 0 2.9,0a1.45,1.45 0 1 0 -2.9,0zM661.20,353.75a1.45,1.45 0 1 0 2.9,0a1.45,1.45 0 1 0 -2.9,0zM666.75,326.00a1.45,1.45 0 1 0 2.9,0a1.45,1.45 0 1 0 -2.9,0zM666.75,331.55a1.45,1.45 0 1 0 2.9,0a1.45,1.45 0 1 0 -2.9,0zM666.75,337.10a1.45,1.45 0 1 0 2.9,0a1.45,1.45 0 1 0 -2.9,0zM666.75,342.65a1.45,1.45 0 1 0 2.9,0a1.45,1.45 0 1 0 -2.9,0zM666.75,348.20a1.45,1.45 0 1 0 2.9,0a1.45,1.45 0 1 0 -2.9,0zM666.75,353.75a1.45,1.45 0 1 0 2.9,0a1.45,1.45 0 1 0 -2.9,0zM672.30,326.00a1.45,1.45 0 1 0 2.9,0a1.45,1.45 0 1 0 -2.9,0zM672.30,331.55a1.45,1.45 0 1 0 2.9,0a1.45,1.45 0 1 0 -2.9,0zM672.30,337.10a1.45,1.45 0 1 0 2.9,0a1.45,1.45 0 1 0 -2.9,0zM672.30,342.65a1.45,1.45 0 1 0 2.9,0a1.45,1.45 0 1 0 -2.9,0zM672.30,348.20a1.45,1.45 0 1 0 2.9,0a1.45,1.45 0 1 0 -2.9,0zM672.30,353.75a1.45,1.45 0 1 0 2.9,0a1.45,1.45 0 1 0 -2.9,0z" fill="#4b4a4f"/>
<rect x="400" y="480" width="40" height="40" fill="#838287"/><rect x="400" y="480" width="2" height="40" fill="#9d9ca1"/><rect x="400" y="480" width="40" height="2" fill="#a09fa4"/><rect x="438" y="480" width="2" height="40" fill="#6f6e73"/><rect x="400" y="518" width="40" height="2" fill="#737277"/>
<path d="M404.55,486.00a1.45,1.45 0 1 0 2.9,0a1.45,1.45 0 1 0 -2.9,0zM404.55,491.55a1.45,1.45 0 1 0 2.9,0a1.45,1.45 0 1 0 -2.9,0zM404.55,497.10a1.45,1.45 0 1 0 2.9,0a1.45,1.45 0 1 0 -2.9,0zM404.55,502.65a1.45,1.45 0 1 0 2.9,0a1.45,1.45 0 1 0 -2.9,0zM404.55,508.20a1.45,1.45 0 1 0 2.9,0a1.45,1.45 0 1 0 -2.9,0zM404.55,513.75a1.45,1.45 0 1 0 2.9,0a1.45,1.45 0 1 0 -2.9,0zM410.10,486.00a1.45,1.45 0 1 0 2.9,0a1.45,1.45 0 1 0 -2.9,0zM410.10,491.55a1.45,1.45 0 1 0 2.9,0a1.45,1.45 0 1 0 -2.9,0zM410.10,497.10a1.45,1.45 0 1 0 2.9,0a1.45,1.45 0 1 0 -2.9,0zM410.10,502.65a1.45,1.45 0 1 0 2.9,0a1.45,1.45 0 1 0 -2.9,0zM410.10,508.20a1.45,1.45 0 1 0 2.9,0a1.45,1.45 0 1 0 -2.9,0zM410.10,513.75a1.45,1.45 0 1 0 2.9,0a1.45,1.45 0 1 0 -2.9,0zM415.65,486.00a1.45,1.45 0 1 0 2.9,0a1.45,1.45 0 1 0 -2.9,0zM415.65,491.55a1.45,1.45 0 1 0 2.9,0a1.45,1.45 0 1 0 -2.9,0zM415.65,497.10a1.45,1.45 0 1 0 2.9,0a1.45,1.45 0 1 0 -2.9,0zM415.65,502.65a1.45,1.45 0 1 0 2.9,0a1.45,1.45 0 1 0 -2.9,0zM415.65,508.20a1.45,1.45 0 1 0 2.9,0a1.45,1.45 0 1 0 -2.9,0zM415.65,513.75a1.45,1.45 0 1 0 2.9,0a1.45,1.45 0 1 0 -2.9,0zM421.20,486.00a1.45,1.45 0 1 0 2.9,0a1.45,1.45 0 1 0 -2.9,0zM421.20,491.55a1.45,1.45 0 1 0 2.9,0a1.45,1.45 0 1 0 -2.9,0zM421.20,497.10a1.45,1.45 0 1 0 2.9,0a1.45,1.45 0 1 0 -2.9,0zM421.20,502.65a1.45,1.45 0 1 0 2.9,0a1.45,1.45 0 1 0 -2.9,0zM421.20,508.20a1.45,1.45 0 1 0 2.9,0a1.45,1.45 0 1 0 -2.9,0zM421.20,513.75a1.45,1.45 0 1 0 2.9,0a1.45,1.45 0 1 0 -2.9,0zM426.75,486.00a1.45,1.45 0 1 0 2.9,0a1.45,1.45 0 1 0 -2.9,0zM426.75,491.55a1.45,1.45 0 1 0 2.9,0a1.45,1.45 0 1 0 -2.9,0zM426.75,497.10a1.45,1.45 0 1 0 2.9,0a1.45,1.45 0 1 0 -2.9,0zM426.75,502.65a1.45,1.45 0 1 0 2.9,0a1.45,1.45 0 1 0 -2.9,0zM426.75,508.20a1.45,1.45 0 1 0 2.9,0a1.45,1.45 0 1 0 -2.9,0zM426.75,513.75a1.45,1.45 0 1 0 2.9,0a1.45,1.45 0 1 0 -2.9,0zM432.30,486.00a1.45,1.45 0 1 0 2.9,0a1.45,1.45 0 1 0 -2.9,0zM432.30,491.55a1.45,1.45 0 1 0 2.9,0a1.45,1.45 0 1 0 -2.9,0zM432.30,497.10a1.45,1.45 0 1 0 2.9,0a1.45,1.45 0 1 0 -2.9,0zM432.30,502.65a1.45,1.45 0 1 0 2.9,0a1.45,1.45 0 1 0 -2.9,0zM432.30,508.20a1.45,1.45 0 1 0 2.9,0a1.45,1.45 0 1 0 -2.9,0zM432.30,513.75a1.45,1.45 0 1 0 2.9,0a1.45,1.45 0 1 0 -2.9,0z" fill="#4b4a4f"/>
<rect x="440" y="480" width="40" height="40" fill="#838287"/><rect x="440" y="480" width="2" height="40" fill="#9d9ca1"/><rect x="440" y="480" width="40" height="2" fill="#a09fa4"/><rect x="478" y="480" width="2" height="40" fill="#6f6e73"/><rect x="440" y="518" width="40" height="2" fill="#737277"/>
<path d="M444.55,486.00a1.45,1.45 0 1 0 2.9,0a1.45,1.45 0 1 0 -2.9,0zM444.55,491.55a1.45,1.45 0 1 0 2.9,0a1.45,1.45 0 1 0 -2.9,0zM444.55,497.10a1.45,1.45 0 1 0 2.9,0a1.45,1.45 0 1 0 -2.9,0zM444.55,502.65a1.45,1.45 0 1 0 2.9,0a1.45,1.45 0 1 0 -2.9,0zM444.55,508.20a1.45,1.45 0 1 0 2.9,0a1.45,1.45 0 1 0 -2.9,0zM444.55,513.75a1.45,1.45 0 1 0 2.9,0a1.45,1.45 0 1 0 -2.9,0zM450.10,486.00a1.45,1.45 0 1 0 2.9,0a1.45,1.45 0 1 0 -2.9,0zM450.10,491.55a1.45,1.45 0 1 0 2.9,0a1.45,1.45 0 1 0 -2.9,0zM450.10,497.10a1.45,1.45 0 1 0 2.9,0a1.45,1.45 0 1 0 -2.9,0zM450.10,502.65a1.45,1.45 0 1 0 2.9,0a1.45,1.45 0 1 0 -2.9,0zM450.10,508.20a1.45,1.45 0 1 0 2.9,0a1.45,1.45 0 1 0 -2.9,0zM450.10,513.75a1.45,1.45 0 1 0 2.9,0a1.45,1.45 0 1 0 -2.9,0zM455.65,486.00a1.45,1.45 0 1 0 2.9,0a1.45,1.45 0 1 0 -2.9,0zM455.65,491.55a1.45,1.45 0 1 0 2.9,0a1.45,1.45 0 1 0 -2.9,0zM455.65,497.10a1.45,1.45 0 1 0 2.9,0a1.45,1.45 0 1 0 -2.9,0zM455.65,502.65a1.45,1.45 0 1 0 2.9,0a1.45,1.45 0 1 0 -2.9,0zM455.65,508.20a1.45,1.45 0 1 0 2.9,0a1.45,1.45 0 1 0 -2.9,0zM455.65,513.75a1.45,1.45 0 1 0 2.9,0a1.45,1.45 0 1 0 -2.9,0zM461.20,486.00a1.45,1.45 0 1 0 2.9,0a1.45,1.45 0 1 0 -2.9,0zM461.20,491.55a1.45,1.45 0 1 0 2.9,0a1.45,1.45 0 1 0 -2.9,0zM461.20,497.10a1.45,1.45 0 1 0 2.9,0a1.45,1.45 0 1 0 -2.9,0zM461.20,502.65a1.45,1.45 0 1 0 2.9,0a1.45,1.45 0 1 0 -2.9,0zM461.20,508.20a1.45,1.45 0 1 0 2.9,0a1.45,1.45 0 1 0 -2.9,0zM461.20,513.75a1.45,1.45 0 1 0 2.9,0a1.45,1.45 0 1 0 -2.9,0zM466.75,486.00a1.45,1.45 0 1 0 2.9,0a1.45,1.45 0 1 0 -2.9,0zM466.75,491.55a1.45,1.45 0 1 0 2.9,0a1.45,1.45 0 1 0 -2.9,0zM466.75,497.10a1.45,1.45 0 1 0 2.9,0a1.45,1.45 0 1 0 -2.9,0zM466.75,502.65a1.45,1.45 0 1 0 2.9,0a1.45,1.45 0 1 0 -2.9,0zM466.75,508.20a1.45,1.45 0 1 0 2.9,0a1.45,1.45 0 1 0 -2.9,0zM466.75,513.75a1.45,1.45 0 1 0 2.9,0a1.45,1.45 0 1 0 -2.9,0zM472.30,486.00a1.45,1.45 0 1 0 2.9,0a1.45,1.45 0 1 0 -2.9,0zM472.30,491.55a1.45,1.45 0 1 0 2.9,0a1.45,1.45 0 1 0 -2.9,0zM472.30,497.10a1.45,1.45 0 1 0 2.9,0a1.45,1.45 0 1 0 -2.9,0zM472.30,502.65a1.45,1.45 0 1 0 2.9,0a1.45,1.45 0 1 0 -2.9,0zM472.30,508.20a1.45,1.45 0 1 0 2.9,0a1.45,1.45 0 1 0 -2.9,0zM472.30,513.75a1.45,1.45 0 1 0 2.9,0a1.45,1.45 0 1 0 -2.9,0z" fill="#4b4a4f"/>
<rect x="480" y="480" width="40" height="40" fill="#838287"/><rect x="480" y="480" width="2" height="40" fill="#9d9ca1"/><rect x="480" y="480" width="40" height="2" fill="#a09fa4"/><rect x="518" y="480" width="2" height="40" fill="#6f6e73"/><rect x="480" y="518" width="40" height="2" fill="#737277"/>
<path d="M484.55,486.00a1.45,1.45 0 1 0 2.9,0a1.45,1.45 0 1 0 -2.9,0zM484.55,491.55a1.45,1.45 0 1 0 2.9,0a1.45,1.45 0 1 0 -2.9,0zM484.55,497.10a1.45,1.45 0 1 0 2.9,0a1.45,1.45 0 1 0 -2.9,0zM484.55,502.65a1.45,1.45 0 1 0 2.9,0a1.45,1.45 0 1 0 -2.9,0zM484.55,508.20a1.45,1.45 0 1 0 2.9,0a1.45,1.45 0 1 0 -2.9,0zM484.55,513.75a1.45,1.45 0 1 0 2.9,0a1.45,1.45 0 1 0 -2.9,0zM490.10,486.00a1.45,1.45 0 1 0 2.9,0a1.45,1.45 0 1 0 -2.9,0zM490.10,491.55a1.45,1.45 0 1 0 2.9,0a1.45,1.45 0 1 0 -2.9,0zM490.10,497.10a1.45,1.45 0 1 0 2.9,0a1.45,1.45 0 1 0 -2.9,0zM490.10,502.65a1.45,1.45 0 1 0 2.9,0a1.45,1.45 0 1 0 -2.9,0zM490.10,508.20a1.45,1.45 0 1 0 2.9,0a1.45,1.45 0 1 0 -2.9,0zM490.10,513.75a1.45,1.45 0 1 0 2.9,0a1.45,1.45 0 1 0 -2.9,0zM495.65,486.00a1.45,1.45 0 1 0 2.9,0a1.45,1.45 0 1 0 -2.9,0zM495.65,491.55a1.45,1.45 0 1 0 2.9,0a1.45,1.45 0 1 0 -2.9,0zM495.65,497.10a1.45,1.45 0 1 0 2.9,0a1.45,1.45 0 1 0 -2.9,0zM495.65,502.65a1.45,1.45 0 1 0 2.9,0a1.45,1.45 0 1 0 -2.9,0zM495.65,508.20a1.45,1.45 0 1 0 2.9,0a1.45,1.45 0 1 0 -2.9,0zM495.65,513.75a1.45,1.45 0 1 0 2.9,0a1.45,1.45 0 1 0 -2.9,0zM501.20,486.00a1.45,1.45 0 1 0 2.9,0a1.45,1.45 0 1 0 -2.9,0zM501.20,491.55a1.45,1.45 0 1 0 2.9,0a1.45,1.45 0 1 0 -2.9,0zM501.20,497.10a1.45,1.45 0 1 0 2.9,0a1.45,1.45 0 1 0 -2.9,0zM501.20,502.65a1.45,1.45 0 1 0 2.9,0a1.45,1.45 0 1 0 -2.9,0zM501.20,508.20a1.45,1.45 0 1 0 2.9,0a1.45,1.45 0 1 0 -2.9,0zM501.20,513.75a1.45,1.45 0 1 0 2.9,0a1.45,1.45 0 1 0 -2.9,0zM506.75,486.00a1.45,1.45 0 1 0 2.9,0a1.45,1.45 0 1 0 -2.9,0zM506.75,491.55a1.45,1.45 0 1 0 2.9,0a1.45,1.45 0 1 0 -2.9,0zM506.75,497.10a1.45,1.45 0 1 0 2.9,0a1.45,1.45 0 1 0 -2.9,0zM506.75,502.65a1.45,1.45 0 1 0 2.9,0a1.45,1.45 0 1 0 -2.9,0zM506.75,508.20a1.45,1.45 0 1 0 2.9,0a1.45,1.45 0 1 0 -2.9,0zM506.75,513.75a1.45,1.45 0 1 0 2.9,0a1.45,1.45 0 1 0 -2.9,0zM512.30,486.00a1.45,1.45 0 1 0 2.9,0a1.45,1.45 0 1 0 -2.9,0zM512.30,491.55a1.45,1.45 0 1 0 2.9,0a1.45,1.45 0 1 0 -2.9,0zM512.30,497.10a1.45,1.45 0 1 0 2.9,0a1.45,1.45 0 1 0 -2.9,0zM512.30,502.65a1.45,1.45 0 1 0 2.9,0a1.45,1.45 0 1 0 -2.9,0zM512.30,508.20a1.45,1.45 0 1 0 2.9,0a1.45,1.45 0 1 0 -2.9,0zM512.30,513.75a1.45,1.45 0 1 0 2.9,0a1.45,1.45 0 1 0 -2.9,0z" fill="#4b4a4f"/>
<rect x="1360" y="960" width="40" height="40" fill="#838287"/><rect x="1360" y="960" width="2" height="40" fill="#9d9ca1"/><rect x="1360" y="960" width="40" height="2" fill="#a09fa4"/><rect x="1398" y="960" width="2" height="40" fill="#6f6e73"/><rect x="1360" y="998" width="40" height="2" fill="#737277"/>
<path d="M1364.55,966.00a1.45,1.45 0 1 0 2.9,0a1.45,1.45 0 1 0 -2.9,0zM1364.55,971.55a1.45,1.45 0 1 0 2.9,0a1.45,1.45 0 1 0 -2.9,0zM1364.55,977.10a1.45,1.45 0 1 0 2.9,0a1.45,1.45 0 1 0 -2.9,0zM1364.55,982.65a1.45,1.45 0 1 0 2.9,0a1.45,1.45 0 1 0 -2.9,0zM1364.55,988.20a1.45,1.45 0 1 0 2.9,0a1.45,1.45 0 1 0 -2.9,0zM1364.55,993.75a1.45,1.45 0 1 0 2.9,0a1.45,1.45 0 1 0 -2.9,0zM1370.10,966.00a1.45,1.45 0 1 0 2.9,0a1.45,1.45 0 1 0 -2.9,0zM1370.10,971.55a1.45,1.45 0 1 0 2.9,0a1.45,1.45 0 1 0 -2.9,0zM1370.10,977.10a1.45,1.45 0 1 0 2.9,0a1.45,1.45 0 1 0 -2.9,0zM1370.10,982.65a1.45,1.45 0 1 0 2.9,0a1.45,1.45 0 1 0 -2.9,0zM1370.10,988.20a1.45,1.45 0 1 0 2.9,0a1.45,1.45 0 1 0 -2.9,0zM1370.10,993.75a1.45,1.45 0 1 0 2.9,0a1.45,1.45 0 1 0 -2.9,0zM1375.65,966.00a1.45,1.45 0 1 0 2.9,0a1.45,1.45 0 1 0 -2.9,0zM1375.65,971.55a1.45,1.45 0 1 0 2.9,0a1.45,1.45 0 1 0 -2.9,0zM1375.65,977.10a1.45,1.45 0 1 0 2.9,0a1.45,1.45 0 1 0 -2.9,0zM1375.65,982.65a1.45,1.45 0 1 0 2.9,0a1.45,1.45 0 1 0 -2.9,0zM1375.65,988.20a1.45,1.45 0 1 0 2.9,0a1.45,1.45 0 1 0 -2.9,0zM1375.65,993.75a1.45,1.45 0 1 0 2.9,0a1.45,1.45 0 1 0 -2.9,0zM1381.20,966.00a1.45,1.45 0 1 0 2.9,0a1.45,1.45 0 1 0 -2.9,0zM1381.20,971.55a1.45,1.45 0 1 0 2.9,0a1.45,1.45 0 1 0 -2.9,0zM1381.20,977.10a1.45,1.45 0 1 0 2.9,0a1.45,1.45 0 1 0 -2.9,0zM1381.20,982.65a1.45,1.45 0 1 0 2.9,0a1.45,1.45 0 1 0 -2.9,0zM1381.20,988.20a1.45,1.45 0 1 0 2.9,0a1.45,1.45 0 1 0 -2.9,0zM1381.20,993.75a1.45,1.45 0 1 0 2.9,0a1.45,1.45 0 1 0 -2.9,0zM1386.75,966.00a1.45,1.45 0 1 0 2.9,0a1.45,1.45 0 1 0 -2.9,0zM1386.75,971.55a1.45,1.45 0 1 0 2.9,0a1.45,1.45 0 1 0 -2.9,0zM1386.75,977.10a1.45,1.45 0 1 0 2.9,0a1.45,1.45 0 1 0 -2.9,0zM1386.75,982.65a1.45,1.45 0 1 0 2.9,0a1.45,1.45 0 1 0 -2.9,0zM1386.75,988.20a1.45,1.45 0 1 0 2.9,0a1.45,1.45 0 1 0 -2.9,0zM1386.75,993.75a1.45,1.45 0 1 0 2.9,0a1.45,1.45 0 1 0 -2.9,0zM1392.30,966.00a1.45,1.45 0 1 0 2.9,0a1.45,1.45 0 1 0 -2.9,0zM1392.30,971.55a1.45,1.45 0 1 0 2.9,0a1.45,1.45 0 1 0 -2.9,0zM1392.30,977.10a1.45,1.45 0 1 0 2.9,0a1.45,1.45 0 1 0 -2.9,0zM1392.30,982.65a1.45,1.45 0 1 0 2.9,0a1.45,1.45 0 1 0 -2.9,0zM1392.30,988.20a1.45,1.45 0 1 0 2.9,0a1.45,1.45 0 1 0 -2.9,0zM1392.30,993.75a1.45,1.45 0 1 0 2.9,0a1.45,1.45 0 1 0 -2.9,0z" fill="#4b4a4f"/>
<rect x="1360" y="920" width="40" height="40" fill="#838287"/><rect x="1360" y="920" width="2" height="40" fill="#9d9ca1"/><rect x="1360" y="920" width="40" height="2" fill="#a09fa4"/><rect x="1398" y="920" width="2" height="40" fill="#6f6e73"/><rect x="1360" y="958" width="40" height="2" fill="#737277"/>
<path d="M1364.55,926.00a1.45,1.45 0 1 0 2.9,0a1.45,1.45 0 1 0 -2.9,0zM1364.55,931.55a1.45,1.45 0 1 0 2.9,0a1.45,1.45 0 1 0 -2.9,0zM1364.55,937.10a1.45,1.45 0 1 0 2.9,0a1.45,1.45 0 1 0 -2.9,0zM1364.55,942.65a1.45,1.45 0 1 0 2.9,0a1.45,1.45 0 1 0 -2.9,0zM1364.55,948.20a1.45,1.45 0 1 0 2.9,0a1.45,1.45 0 1 0 -2.9,0zM1364.55,953.75a1.45,1.45 0 1 0 2.9,0a1.45,1.45 0 1 0 -2.9,0zM1370.10,926.00a1.45,1.45 0 1 0 2.9,0a1.45,1.45 0 1 0 -2.9,0zM1370.10,931.55a1.45,1.45 0 1 0 2.9,0a1.45,1.45 0 1 0 -2.9,0zM1370.10,937.10a1.45,1.45 0 1 0 2.9,0a1.45,1.45 0 1 0 -2.9,0zM1370.10,942.65a1.45,1.45 0 1 0 2.9,0a1.45,1.45 0 1 0 -2.9,0zM1370.10,948.20a1.45,1.45 0 1 0 2.9,0a1.45,1.45 0 1 0 -2.9,0zM1370.10,953.75a1.45,1.45 0 1 0 2.9,0a1.45,1.45 0 1 0 -2.9,0zM1375.65,926.00a1.45,1.45 0 1 0 2.9,0a1.45,1.45 0 1 0 -2.9,0zM1375.65,931.55a1.45,1.45 0 1 0 2.9,0a1.45,1.45 0 1 0 -2.9,0zM1375.65,937.10a1.45,1.45 0 1 0 2.9,0a1.45,1.45 0 1 0 -2.9,0zM1375.65,942.65a1.45,1.45 0 1 0 2.9,0a1.45,1.45 0 1 0 -2.9,0zM1375.65,948.20a1.45,1.45 0 1 0 2.9,0a1.45,1.45 0 1 0 -2.9,0zM1375.65,953.75a1.45,1.45 0 1 0 2.9,0a1.45,1.45 0 1 0 -2.9,0zM1381.20,926.00a1.45,1.45 0 1 0 2.9,0a1.45,1.45 0 1 0 -2.9,0zM1381.20,931.55a1.45,1.45 0 1 0 2.9,0a1.45,1.45 0 1 0 -2.9,0zM1381.20,937.10a1.45,1.45 0 1 0 2.9,0a1.45,1.45 0 1 0 -2.9,0zM1381.20,942.65a1.45,1.45 0 1 0 2.9,0a1.45,1.45 0 1 0 -2.9,0zM1381.20,948.20a1.45,1.45 0 1 0 2.9,0a1.45,1.45 0 1 0 -2.9,0zM1381.20,953.75a1.45,1.45 0 1 0 2.9,0a1.45,1.45 0 1 0 -2.9,0zM1386.75,926.00a1.45,1.45 0 1 0 2.9,0a1.45,1.45 0 1 0 -2.9,0zM1386.75,931.55a1.45,1.45 0 1 0 2.9,0a1.45,1.45 0 1 0 -2.9,0zM1386.75,937.10a1.45,1.45 0 1 0 2.9,0a1.45,1.45 0 1 0 -2.9,0zM1386.75,942.65a1.45,1.45 0 1 0 2.9,0a1.45,1.45 0 1 0 -2.9,0zM1386.75,948.20a1.45,1.45 0 1 0 2.9,0a1.45,1.45 0 1 0 -2.9,0zM1386.75,953.75a1.45,1.45 0 1 0 2.9,0a1.45,1.45 0 1 0 -2.9,0zM1392.30,926.00a1.45,1.45 0 1 0 2.9,0a1.45,1.45 0 1 0 -2.9,0zM1392.30,931.55a1.45,1.45 0 1 0 2.9,0a1.45,1.45 0 1 0 -2.9,0zM1392.30,937.10a1.45,1.45 0 1 0 2.9,0a1.45,1.45 0 1 0 -2.9,0zM1392.30,942.65a1.45,1.45 0 1 0 2.9,0a1.45,1.45 0 1 0 -2.9,0zM1392.30,948.20a1.45,1.45 0 1 0 2.9,0a1.45,1.45 0 1 0 -2.9,0zM1392.30,953.75a1.45,1.45 0 1 0 2.9,0a1.45,1.45 0 1 0 -2.9,0z" fill="#4b4a4f"/>
<rect x="1360" y="880" width="40" height="40" fill="#838287"/><rect x="1360" y="880" width="2" height="40" fill="#9d9ca1"/><rect x="1360" y="880" width="40" height="2" fill="#a09fa4"/><rect x="1398" y="880" width="2" height="40" fill="#6f6e73"/><rect x="1360" y="918" width="40" height="2" fill="#737277"/>
<path d="M1364.55,886.00a1.45,1.45 0 1 0 2.9,0a1.45,1.45 0 1 0 -2.9,0zM1364.55,891.55a1.45,1.45 0 1 0 2.9,0a1.45,1.45 0 1 0 -2.9,0zM1364.55,897.10a1.45,1.45 0 1 0 2.9,0a1.45,1.45 0 1 0 -2.9,0zM1364.55,902.65a1.45,1.45 0 1 0 2.9,0a1.45,1.45 0 1 0 -2.9,0zM1364.55,908.20a1.45,1.45 0 1 0 2.9,0a1.45,1.45 0 1 0 -2.9,0zM1364.55,913.75a1.45,1.45 0 1 0 2.9,0a1.45,1.45 0 1 0 -2.9,0zM1370.10,886.00a1.45,1.45 0 1 0 2.9,0a1.45,1.45 0 1 0 -2.9,0zM1370.10,891.55a1.45,1.45 0 1 0 2.9,0a1.45,1.45 0 1 0 -2.9,0zM1370.10,897.10a1.45,1.45 0 1 0 2.9,0a1.45,1.45 0 1 0 -2.9,0zM1370.10,902.65a1.45,1.45 0 1 0 2.9,0a1.45,1.45 0 1 0 -2.9,0zM1370.10,908.20a1.45,1.45 0 1 0 2.9,0a1.45,1.45 0 1 0 -2.9,0zM1370.10,913.75a1.45,1.45 0 1 0 2.9,0a1.45,1.45 0 1 0 -2.9,0zM1375.65,886.00a1.45,1.45 0 1 0 2.9,0a1.45,1.45 0 1 0 -2.9,0zM1375.65,891.55a1.45,1.45 0 1 0 2.9,0a1.45,1.45 0 1 0 -2.9,0zM1375.65,897.10a1.45,1.45 0 1 0 2.9,0a1.45,1.45 0 1 0 -2.9,0zM1375.65,902.65a1.45,1.45 0 1 0 2.9,0a1.45,1.45 0 1 0 -2.9,0zM1375.65,908.20a1.45,1.45 0 1 0 2.9,0a1.45,1.45 0 1 0 -2.9,0zM1375.65,913.75a1.45,1.45 0 1 0 2.9,0a1.45,1.45 0 1 0 -2.9,0zM1381.20,886.00a1.45,1.45 0 1 0 2.9,0a1.45,1.45 0 1 0 -2.9,0zM1381.20,891.55a1.45,1.45 0 1 0 2.9,0a1.45,1.45 0 1 0 -2.9,0zM1381.20,897.10a1.45,1.45 0 1 0 2.9,0a1.45,1.45 0 1 0 -2.9,0zM1381.20,902.65a1.45,1.45 0 1 0 2.9,0a1.45,1.45 0 1 0 -2.9,0zM1381.20,908.20a1.45,1.45 0 1 0 2.9,0a1.45,1.45 0 1 0 -2.9,0zM1381.20,913.75a1.45,1.45 0 1 0 2.9,0a1.45,1.45 0 1 0 -2.9,0zM1386.75,886.00a1.45,1.45 0 1 0 2.9,0a1.45,1.45 0 1 0 -2.9,0zM1386.75,891.55a1.45,1.45 0 1 0 2.9,0a1.45,1.45 0 1 0 -2.9,0zM1386.75,897.10a1.45,1.45 0 1 0 2.9,0a1.45,1.45 0 1 0 -2.9,0zM1386.75,902.65a1.45,1.45 0 1 0 2.9,0a1.45,1.45 0 1 0 -2.9,0zM1386.75,908.20a1.45,1.45 0 1 0 2.9,0a1.45,1.45 0 1 0 -2.9,0zM1386.75,913.75a1.45,1.45 0 1 0 2.9,0a1.45,1.45 0 1 0 -2.9,0zM1392.30,886.00a1.45,1.45 0 1 0 2.9,0a1.45,1.45 0 1 0 -2.9,0zM1392.30,891.55a1.45,1.45 0 1 0 2.9,0a1.45,1.45 0 1 0 -2.9,0zM1392.30,897.10a1.45,1.45 0 1 0 2.9,0a1.45,1.45 0 1 0 -2.9,0zM1392.30,902.65a1.45,1.45 0 1 0 2.9,0a1.45,1.45 0 1 0 -2.9,0zM1392.30,908.20a1.45,1.45 0 1 0 2.9,0a1.45,1.45 0 1 0 -2.9,0zM1392.30,913.75a1.45,1.45 0 1 0 2.9,0a1.45,1.45 0 1 0 -2.9,0z" fill="#4b4a4f"/>
<rect x="1600" y="720" width="40" height="40" fill="#838287"/><rect x="1600" y="720" width="2" height="40" fill="#9d9ca1"/><rect x="1600" y="720" width="40" height="2" fill="#a09fa4"/><rect x="1638" y="720" width="2" height="40" fill="#6f6e73"/><rect x="1600" y="758" width="40" height="2" fill="#737277"/>
<path d="M1604.55,726.00a1.45,1.45 0 1 0 2.9,0a1.45,1.45 0 1 0 -2.9,0zM1604.55,731.55a1.45,1.45 0 1 0 2.9,0a1.45,1.45 0 1 0 -2.9,0zM1604.55,737.10a1.45,1.45 0 1 0 2.9,0a1.45,1.45 0 1 0 -2.9,0zM1604.55,742.65a1.45,1.45 0 1 0 2.9,0a1.45,1.45 0 1 0 -2.9,0zM1604.55,748.20a1.45,1.45 0 1 0 2.9,0a1.45,1.45 0 1 0 -2.9,0zM1604.55,753.75a1.45,1.45 0 1 0 2.9,0a1.45,1.45 0 1 0 -2.9,0zM1610.10,726.00a1.45,1.45 0 1 0 2.9,0a1.45,1.45 0 1 0 -2.9,0zM1610.10,731.55a1.45,1.45 0 1 0 2.9,0a1.45,1.45 0 1 0 -2.9,0zM1610.10,737.10a1.45,1.45 0 1 0 2.9,0a1.45,1.45 0 1 0 -2.9,0zM1610.10,742.65a1.45,1.45 0 1 0 2.9,0a1.45,1.45 0 1 0 -2.9,0zM1610.10,748.20a1.45,1.45 0 1 0 2.9,0a1.45,1.45 0 1 0 -2.9,0zM1610.10,753.75a1.45,1.45 0 1 0 2.9,0a1.45,1.45 0 1 0 -2.9,0zM1615.65,726.00a1.45,1.45 0 1 0 2.9,0a1.45,1.45 0 1 0 -2.9,0zM1615.65,731.55a1.45,1.45 0 1 0 2.9,0a1.45,1.45 0 1 0 -2.9,0zM1615.65,737.10a1.45,1.45 0 1 0 2.9,0a1.45,1.45 0 1 0 -2.9,0zM1615.65,742.65a1.45,1.45 0 1 0 2.9,0a1.45,1.45 0 1 0 -2.9,0zM1615.65,748.20a1.45,1.45 0 1 0 2.9,0a1.45,1.45 0 1 0 -2.9,0zM1615.65,753.75a1.45,1.45 0 1 0 2.9,0a1.45,1.45 0 1 0 -2.9,0zM1621.20,726.00a1.45,1.45 0 1 0 2.9,0a1.45,1.45 0 1 0 -2.9,0zM1621.20,731.55a1.45,1.45 0 1 0 2.9,0a1.45,1.45 0 1 0 -2.9,0zM1621.20,737.10a1.45,1.45 0 1 0 2.9,0a1.45,1.45 0 1 0 -2.9,0zM1621.20,742.65a1.45,1.45 0 1 0 2.9,0a1.45,1.45 0 1 0 -2.9,0zM1621.20,748.20a1.45,1.45 0 1 0 2.9,0a1.45,1.45 0 1 0 -2.9,0zM1621.20,753.75a1.45,1.45 0 1 0 2.9,0a1.45,1.45 0 1 0 -2.9,0zM1626.75,726.00a1.45,1.45 0 1 0 2.9,0a1.45,1.45 0 1 0 -2.9,0zM1626.75,731.55a1.45,1.45 0 1 0 2.9,0a1.45,1.45 0 1 0 -2.9,0zM1626.75,737.10a1.45,1.45 0 1 0 2.9,0a1.45,1.45 0 1 0 -2.9,0zM1626.75,742.65a1.45,1.45 0 1 0 2.9,0a1.45,1.45 0 1 0 -2.9,0zM1626.75,748.20a1.45,1.45 0 1 0 2.9,0a1.45,1.45 0 1 0 -2.9,0zM1626.75,753.75a1.45,1.45 0 1 0 2.9,0a1.45,1.45 0 1 0 -2.9,0zM1632.30,726.00a1.45,1.45 0 1 0 2.9,0a1.45,1.45 0 1 0 -2.9,0zM1632.30,731.55a1.45,1.45 0 1 0 2.9,0a1.45,1.45 0 1 0 -2.9,0zM1632.30,737.10a1.45,1.45 0 1 0 2.9,0a1.45,1.45 0 1 0 -2.9,0zM1632.30,742.65a1.45,1.45 0 1 0 2.9,0a1.45,1.45 0 1 0 -2.9,0zM1632.30,748.20a1.45,1.45 0 1 0 2.9,0a1.45,1.45 0 1 0 -2.9,0zM1632.30,753.75a1.45,1.45 0 1 0 2.9,0a1.45,1.45 0 1 0 -2.9,0z" fill="#4b4a4f"/>
<rect x="1560" y="720" width="40" height="40" fill="#838287"/><rect x="1560" y="720" width="2" height="40" fill="#9d9ca1"/><rect x="1560" y="720" width="40" height="2" fill="#a09fa4"/><rect x="1598" y="720" width="2" height="40" fill="#6f6e73"/><rect x="1560" y="758" width="40" height="2" fill="#737277"/>
<path d="M1564.55,726.00a1.45,1.45 0 1 0 2.9,0a1.45,1.45 0 1 0 -2.9,0zM1564.55,731.55a1.45,1.45 0 1 0 2.9,0a1.45,1.45 0 1 0 -2.9,0zM1564.55,737.10a1.45,1.45 0 1 0 2.9,0a1.45,1.45 0 1 0 -2.9,0zM1564.55,742.65a1.45,1.45 0 1 0 2.9,0a1.45,1.45 0 1 0 -2.9,0zM1564.55,748.20a1.45,1.45 0 1 0 2.9,0a1.45,1.45 0 1 0 -2.9,0zM1564.55,753.75a1.45,1.45 0 1 0 2.9,0a1.45,1.45 0 1 0 -2.9,0zM1570.10,726.00a1.45,1.45 0 1 0 2.9,0a1.45,1.45 0 1 0 -2.9,0zM1570.10,731.55a1.45,1.45 0 1 0 2.9,0a1.45,1.45 0 1 0 -2.9,0zM1570.10,737.10a1.45,1.45 0 1 0 2.9,0a1.45,1.45 0 1 0 -2.9,0zM1570.10,742.65a1.45,1.45 0 1 0 2.9,0a1.45,1.45 0 1 0 -2.9,0zM1570.10,748.20a1.45,1.45 0 1 0 2.9,0a1.45,1.45 0 1 0 -2.9,0zM1570.10,753.75a1.45,1.45 0 1 0 2.9,0a1.45,1.45 0 1 0 -2.9,0zM1575.65,726.00a1.45,1.45 0 1 0 2.9,0a1.45,1.45 0 1 0 -2.9,0zM1575.65,731.55a1.45,1.45 0 1 0 2.9,0a1.45,1.45 0 1 0 -2.9,0zM1575.65,737.10a1.45,1.45 0 1 0 2.9,0a1.45,1.45 0 1 0 -2.9,0zM1575.65,742.65a1.45,1.45 0 1 0 2.9,0a1.45,1.45 0 1 0 -2.9,0zM1575.65,748.20a1.45,1.45 0 1 0 2.9,0a1.45,1.45 0 1 0 -2.9,0zM1575.65,753.75a1.45,1.45 0 1 0 2.9,0a1.45,1.45 0 1 0 -2.9,0zM1581.20,726.00a1.45,1.45 0 1 0 2.9,0a1.45,1.45 0 1 0 -2.9,0zM1581.20,731.55a1.45,1.45 0 1 0 2.9,0a1.45,1.45 0 1 0 -2.9,0zM1581.20,737.10a1.45,1.45 0 1 0 2.9,0a1.45,1.45 0 1 0 -2.9,0zM1581.20,742.65a1.45,1.45 0 1 0 2.9,0a1.45,1.45 0 1 0 -2.9,0zM1581.20,748.20a1.45,1.45 0 1 0 2.9,0a1.45,1.45 0 1 0 -2.9,0zM1581.20,753.75a1.45,1.45 0 1 0 2.9,0a1.45,1.45 0 1 0 -2.9,0zM1586.75,726.00a1.45,1.45 0 1 0 2.9,0a1.45,1.45 0 1 0 -2.9,0zM1586.75,731.55a1.45,1.45 0 1 0 2.9,0a1.45,1.45 0 1 0 -2.9,0zM1586.75,737.10a1.45,1.45 0 1 0 2.9,0a1.45,1.45 0 1 0 -2.9,0zM1586.75,742.65a1.45,1.45 0 1 0 2.9,0a1.45,1.45 0 1 0 -2.9,0zM1586.75,748.20a1.45,1.45 0 1 0 2.9,0a1.45,1.45 0 1 0 -2.9,0zM1586.75,753.75a1.45,1.45 0 1 0 2.9,0a1.45,1.45 0 1 0 -2.9,0zM1592.30,726.00a1.45,1.45 0 1 0 2.9,0a1.45,1.45 0 1 0 -2.9,0zM1592.30,731.55a1.45,1.45 0 1 0 2.9,0a1.45,1.45 0 1 0 -2.9,0zM1592.30,737.10a1.45,1.45 0 1 0 2.9,0a1.45,1.45 0 1 0 -2.9,0zM1592.30,742.65a1.45,1.45 0 1 0 2.9,0a1.45,1.45 0 1 0 -2.9,0zM1592.30,748.20a1.45,1.45 0 1 0 2.9,0a1.45,1.45 0 1 0 -2.9,0zM1592.30,753.75a1.45,1.45 0 1 0 2.9,0a1.45,1.45 0 1 0 -2.9,0z" fill="#4b4a4f"/>
<rect x="1520" y="720" width="40" height="40" fill="#838287"/><rect x="1520" y="720" width="2" height="40" fill="#9d9ca1"/><rect x="1520" y="720" width="40" height="2" fill="#a09fa4"/><rect x="1558" y="720" width="2" height="40" fill="#6f6e73"/><rect x="1520" y="758" width="40" height="2" fill="#737277"/>
<path d="M1524.55,726.00a1.45,1.45 0 1 0 2.9,0a1.45,1.45 0 1 0 -2.9,0zM1524.55,731.55a1.45,1.45 0 1 0 2.9,0a1.45,1.45 0 1 0 -2.9,0zM1524.55,737.10a1.45,1.45 0 1 0 2.9,0a1.45,1.45 0 1 0 -2.9,0zM1524.55,742.65a1.45,1.45 0 1 0 2.9,0a1.45,1.45 0 1 0 -2.9,0zM1524.55,748.20a1.45,1.45 0 1 0 2.9,0a1.45,1.45 0 1 0 -2.9,0zM1524.55,753.75a1.45,1.45 0 1 0 2.9,0a1.45,1.45 0 1 0 -2.9,0zM1530.10,726.00a1.45,1.45 0 1 0 2.9,0a1.45,1.45 0 1 0 -2.9,0zM1530.10,731.55a1.45,1.45 0 1 0 2.9,0a1.45,1.45 0 1 0 -2.9,0zM1530.10,737.10a1.45,1.45 0 1 0 2.9,0a1.45,1.45 0 1 0 -2.9,0zM1530.10,742.65a1.45,1.45 0 1 0 2.9,0a1.45,1.45 0 1 0 -2.9,0zM1530.10,748.20a1.45,1.45 0 1 0 2.9,0a1.45,1.45 0 1 0 -2.9,0zM1530.10,753.75a1.45,1.45 0 1 0 2.9,0a1.45,1.45 0 1 0 -2.9,0zM1535.65,726.00a1.45,1.45 0 1 0 2.9,0a1.45,1.45 0 1 0 -2.9,0zM1535.65,731.55a1.45,1.45 0 1 0 2.9,0a1.45,1.45 0 1 0 -2.9,0zM1535.65,737.10a1.45,1.45 0 1 0 2.9,0a1.45,1.45 0 1 0 -2.9,0zM1535.65,742.65a1.45,1.45 0 1 0 2.9,0a1.45,1.45 0 1 0 -2.9,0zM1535.65,748.20a1.45,1.45 0 1 0 2.9,0a1.45,1.45 0 1 0 -2.9,0zM1535.65,753.75a1.45,1.45 0 1 0 2.9,0a1.45,1.45 0 1 0 -2.9,0zM1541.20,726.00a1.45,1.45 0 1 0 2.9,0a1.45,1.45 0 1 0 -2.9,0zM1541.20,731.55a1.45,1.45 0 1 0 2.9,0a1.45,1.45 0 1 0 -2.9,0zM1541.20,737.10a1.45,1.45 0 1 0 2.9,0a1.45,1.45 0 1 0 -2.9,0zM1541.20,742.65a1.45,1.45 0 1 0 2.9,0a1.45,1.45 0 1 0 -2.9,0zM1541.20,748.20a1.45,1.45 0 1 0 2.9,0a1.45,1.45 0 1 0 -2.9,0zM1541.20,753.75a1.45,1.45 0 1 0 2.9,0a1.45,1.45 0 1 0 -2.9,0zM1546.75,726.00a1.45,1.45 0 1 0 2.9,0a1.45,1.45 0 1 0 -2.9,0zM1546.75,731.55a1.45,1.45 0 1 0 2.9,0a1.45,1.45 0 1 0 -2.9,0zM1546.75,737.10a1.45,1.45 0 1 0 2.9,0a1.45,1.45 0 1 0 -2.9,0zM1546.75,742.65a1.45,1.45 0 1 0 2.9,0a1.45,1.45 0 1 0 -2.9,0zM1546.75,748.20a1.45,1.45 0 1 0 2.9,0a1.45,1.45 0 1 0 -2.9,0zM1546.75,753.75a1.45,1.45 0 1 0 2.9,0a1.45,1.45 0 1 0 -2.9,0zM1552.30,726.00a1.45,1.45 0 1 0 2.9,0a1.45,1.45 0 1 0 -2.9,0zM1552.30,731.55a1.45,1.45 0 1 0 2.9,0a1.45,1.45 0 1 0 -2.9,0zM1552.30,737.10a1.45,1.45 0 1 0 2.9,0a1.45,1.45 0 1 0 -2.9,0zM1552.30,742.65a1.45,1.45 0 1 0 2.9,0a1.45,1.45 0 1 0 -2.9,0zM1552.30,748.20a1.45,1.45 0 1 0 2.9,0a1.45,1.45 0 1 0 -2.9,0zM1552.30,753.75a1.45,1.45 0 1 0 2.9,0a1.45,1.45 0 1 0 -2.9,0z" fill="#4b4a4f"/>
<use href="#coin" x="620" y="260"/>
<use href="#plus" x="620" y="340"/>
<use href="#plus" x="780" y="220"/>
<use href="#plus" x="500" y="460"/>
<use href="#coin" x="420" y="460"/>
<use href="#gear" x="580" y="420"/>
<use href="#bomb" x="620" y="460"/>
<use href="#plus" x="380" y="620"/>
<use href="#gear" x="1060" y="580"/>
<use href="#bomb" x="60" y="380"/>
<use href="#ball" x="60" y="340"/>
<use href="#coin" x="1420" y="980"/>
<use href="#plus" x="1420" y="900"/>
<use href="#plus" x="1260" y="1020"/>
<use href="#plus" x="1540" y="780"/>
<use href="#coin" x="1620" y="780"/>
<use href="#gear" x="1460" y="820"/>
<use href="#bomb" x="1420" y="780"/>
<use href="#plus" x="1660" y="620"/>
<use href="#gear" x="980" y="660"/>
<use href="#bomb" x="1980" y="860"/>
<use href="#ball" x="1980" y="900"/>
<use href="#ball" x="1020" y="620"/>
<use href="#plusO" x="740" y="580"/>
<use href="#plusT" x="1300" y="660"/>
<use href="#flagR" x="400" y="240"/>
<use href="#flagB" x="1600" y="960"/>
</svg></body></html>
